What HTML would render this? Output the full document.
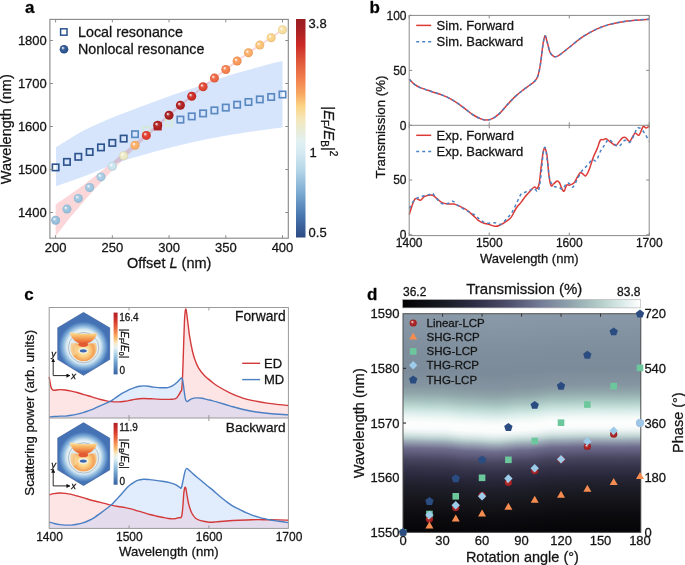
<!DOCTYPE html>
<html><head><meta charset="utf-8"><style>
html,body{margin:0;padding:0;background:#fff;}
body{width:685px;height:565px;overflow:hidden;}
svg{display:block;font-family:"Liberation Sans",sans-serif;}
text{stroke:#141414;stroke-width:0.28px;}
</style></head><body>
<svg width="685" height="565" viewBox="0 0 685 565">
<defs>
<radialGradient id="sg0" cx="0.5" cy="0.5" r="0.5" fx="0.33" fy="0.32"><stop offset="0" stop-color="#ffffff"/><stop offset="0.14" stop-color="#e2edf5"/><stop offset="0.4" stop-color="#9fc5e0"/><stop offset="0.75" stop-color="#97c0dd"/><stop offset="1" stop-color="#88adc7"/></radialGradient>
<radialGradient id="sg1" cx="0.5" cy="0.5" r="0.5" fx="0.33" fy="0.32"><stop offset="0" stop-color="#ffffff"/><stop offset="0.14" stop-color="#e2eef6"/><stop offset="0.4" stop-color="#a1c7e1"/><stop offset="0.75" stop-color="#99c2de"/><stop offset="1" stop-color="#8aafc8"/></radialGradient>
<radialGradient id="sg2" cx="0.5" cy="0.5" r="0.5" fx="0.33" fy="0.32"><stop offset="0" stop-color="#ffffff"/><stop offset="0.14" stop-color="#e3eef6"/><stop offset="0.4" stop-color="#a4c9e2"/><stop offset="0.75" stop-color="#9cc4df"/><stop offset="1" stop-color="#8cb0c9"/></radialGradient>
<radialGradient id="sg3" cx="0.5" cy="0.5" r="0.5" fx="0.33" fy="0.32"><stop offset="0" stop-color="#ffffff"/><stop offset="0.14" stop-color="#e4eff7"/><stop offset="0.4" stop-color="#a8cbe3"/><stop offset="0.75" stop-color="#a0c7e1"/><stop offset="1" stop-color="#90b3ca"/></radialGradient>
<radialGradient id="sg4" cx="0.5" cy="0.5" r="0.5" fx="0.33" fy="0.32"><stop offset="0" stop-color="#ffffff"/><stop offset="0.14" stop-color="#e6f0f7"/><stop offset="0.4" stop-color="#adcfe5"/><stop offset="0.75" stop-color="#a6cbe3"/><stop offset="1" stop-color="#95b7cc"/></radialGradient>
<radialGradient id="sg5" cx="0.5" cy="0.5" r="0.5" fx="0.33" fy="0.32"><stop offset="0" stop-color="#ffffff"/><stop offset="0.14" stop-color="#f0f7fa"/><stop offset="0.4" stop-color="#cde5ee"/><stop offset="0.75" stop-color="#c9e3ec"/><stop offset="1" stop-color="#b5ccd4"/></radialGradient>
<radialGradient id="sg6" cx="0.5" cy="0.5" r="0.5" fx="0.33" fy="0.32"><stop offset="0" stop-color="#ffffff"/><stop offset="0.14" stop-color="#faf9ee"/><stop offset="0.4" stop-color="#eeeac9"/><stop offset="0.75" stop-color="#ece8c4"/><stop offset="1" stop-color="#d4d1b0"/></radialGradient>
<radialGradient id="sg7" cx="0.5" cy="0.5" r="0.5" fx="0.33" fy="0.32"><stop offset="0" stop-color="#ffffff"/><stop offset="0.14" stop-color="#fee8d4"/><stop offset="0.4" stop-color="#fbb472"/><stop offset="0.75" stop-color="#fbae66"/><stop offset="1" stop-color="#e29d5c"/></radialGradient>
<radialGradient id="sg8" cx="0.5" cy="0.5" r="0.5" fx="0.33" fy="0.32"><stop offset="0" stop-color="#ffffff"/><stop offset="0.14" stop-color="#f6c8c4"/><stop offset="0.4" stop-color="#e24b3c"/><stop offset="0.75" stop-color="#e03b2b"/><stop offset="1" stop-color="#ca3527"/></radialGradient>
<radialGradient id="sg9" cx="0.5" cy="0.5" r="0.5" fx="0.33" fy="0.32"><stop offset="0" stop-color="#ffffff"/><stop offset="0.14" stop-color="#e9c0c0"/><stop offset="0.4" stop-color="#b63131"/><stop offset="0.75" stop-color="#b01f1f"/><stop offset="1" stop-color="#9e1c1c"/></radialGradient>
<radialGradient id="sg10" cx="0.5" cy="0.5" r="0.5" fx="0.33" fy="0.32"><stop offset="0" stop-color="#ffffff"/><stop offset="0.14" stop-color="#e6bfbf"/><stop offset="0.4" stop-color="#ac2e2e"/><stop offset="0.75" stop-color="#a51c1c"/><stop offset="1" stop-color="#941919"/></radialGradient>
<radialGradient id="sg11" cx="0.5" cy="0.5" r="0.5" fx="0.33" fy="0.32"><stop offset="0" stop-color="#ffffff"/><stop offset="0.14" stop-color="#e9c1c1"/><stop offset="0.4" stop-color="#b63232"/><stop offset="0.75" stop-color="#b02020"/><stop offset="1" stop-color="#9e1d1d"/></radialGradient>
<radialGradient id="sg12" cx="0.5" cy="0.5" r="0.5" fx="0.33" fy="0.32"><stop offset="0" stop-color="#ffffff"/><stop offset="0.14" stop-color="#f1c4c2"/><stop offset="0.4" stop-color="#d03c36"/><stop offset="0.75" stop-color="#cc2b25"/><stop offset="1" stop-color="#b82721"/></radialGradient>
<radialGradient id="sg13" cx="0.5" cy="0.5" r="0.5" fx="0.33" fy="0.32"><stop offset="0" stop-color="#ffffff"/><stop offset="0.14" stop-color="#f6cbc5"/><stop offset="0.4" stop-color="#e25441"/><stop offset="0.75" stop-color="#df4531"/><stop offset="1" stop-color="#c93e2c"/></radialGradient>
<radialGradient id="sg14" cx="0.5" cy="0.5" r="0.5" fx="0.33" fy="0.32"><stop offset="0" stop-color="#ffffff"/><stop offset="0.14" stop-color="#fad4ca"/><stop offset="0.4" stop-color="#ee704f"/><stop offset="0.75" stop-color="#ed6440"/><stop offset="1" stop-color="#d55a3a"/></radialGradient>
<radialGradient id="sg15" cx="0.5" cy="0.5" r="0.5" fx="0.33" fy="0.32"><stop offset="0" stop-color="#ffffff"/><stop offset="0.14" stop-color="#fcdbcd"/><stop offset="0.4" stop-color="#f5895a"/><stop offset="0.75" stop-color="#f47f4c"/><stop offset="1" stop-color="#dc7244"/></radialGradient>
<radialGradient id="sg16" cx="0.5" cy="0.5" r="0.5" fx="0.33" fy="0.32"><stop offset="0" stop-color="#ffffff"/><stop offset="0.14" stop-color="#fde2d0"/><stop offset="0.4" stop-color="#f99f64"/><stop offset="0.75" stop-color="#f89757"/><stop offset="1" stop-color="#df884e"/></radialGradient>
<radialGradient id="sg17" cx="0.5" cy="0.5" r="0.5" fx="0.33" fy="0.32"><stop offset="0" stop-color="#ffffff"/><stop offset="0.14" stop-color="#fee8d4"/><stop offset="0.4" stop-color="#fab472"/><stop offset="0.75" stop-color="#faad66"/><stop offset="1" stop-color="#e19c5c"/></radialGradient>
<radialGradient id="sg18" cx="0.5" cy="0.5" r="0.5" fx="0.33" fy="0.32"><stop offset="0" stop-color="#ffffff"/><stop offset="0.14" stop-color="#feeed9"/><stop offset="0.4" stop-color="#fbc781"/><stop offset="0.75" stop-color="#fbc276"/><stop offset="1" stop-color="#e2af6a"/></radialGradient>
<radialGradient id="sg19" cx="0.5" cy="0.5" r="0.5" fx="0.33" fy="0.32"><stop offset="0" stop-color="#ffffff"/><stop offset="0.14" stop-color="#fef2dd"/><stop offset="0.4" stop-color="#fbd691"/><stop offset="0.75" stop-color="#fbd287"/><stop offset="1" stop-color="#e2bd7a"/></radialGradient>
<radialGradient id="sg20" cx="0.5" cy="0.5" r="0.5" fx="0.33" fy="0.32"><stop offset="0" stop-color="#ffffff"/><stop offset="0.14" stop-color="#fdf6e4"/><stop offset="0.4" stop-color="#f9e2a7"/><stop offset="0.75" stop-color="#f8df9f"/><stop offset="1" stop-color="#dfc98f"/></radialGradient>
<radialGradient id="sg21" cx="0.5" cy="0.5" r="0.5" fx="0.33" fy="0.32"><stop offset="0" stop-color="#ffffff"/><stop offset="0.14" stop-color="#c4cfe0"/><stop offset="0.4" stop-color="#3e639b"/><stop offset="0.75" stop-color="#2d5592"/><stop offset="1" stop-color="#284c83"/></radialGradient>
<linearGradient id="cba" x1="0" y1="0" x2="0" y2="1"><stop offset="0" stop-color="#9a1e22"/><stop offset="0.05" stop-color="#a82124"/><stop offset="0.12" stop-color="#cc2a26"/><stop offset="0.19" stop-color="#de553a"/><stop offset="0.275" stop-color="#f2804e"/><stop offset="0.34" stop-color="#f8a660"/><stop offset="0.40" stop-color="#fbd486"/><stop offset="0.455" stop-color="#f5e6b8"/><stop offset="0.51" stop-color="#e9ecd6"/><stop offset="0.56" stop-color="#e0f0f2"/><stop offset="0.61" stop-color="#d6eaf2"/><stop offset="0.7" stop-color="#b0d3e6"/><stop offset="0.8" stop-color="#79a8d0"/><stop offset="0.9" stop-color="#4876b0"/><stop offset="1" stop-color="#2c4b84"/></linearGradient>
<clipPath id="cmd0"><path d="M49.2,417 C49.97,416.92 52.05,416.65 53.8,416.5 C55.55,416.35 57.75,416.17 59.7,416.1 C61.65,416.03 63.55,416.23 65.5,416.1 C67.45,415.97 69.45,415.63 71.4,415.3 C73.35,414.97 75.27,414.55 77.2,414.1 C79.13,413.65 81.05,413.18 83,412.6 C84.95,412.02 86.95,411.32 88.9,410.6 C90.85,409.88 92.75,409.13 94.7,408.3 C96.65,407.47 98.65,406.45 100.6,405.6 C102.55,404.75 104.65,403.98 106.4,403.2 C108.15,402.42 109.8,401.63 111.1,400.9 C112.4,400.17 112.52,399.98 114.2,398.8 C115.88,397.62 119.4,394.97 121.2,393.8 C123,392.63 123.58,392.53 125,391.8 C126.42,391.07 128.12,390.1 129.7,389.4 C131.28,388.7 132.92,388.12 134.5,387.6 C136.08,387.08 137.62,386.58 139.2,386.3 C140.78,386.02 142.42,385.9 144,385.9 C145.58,385.9 147.12,386.1 148.7,386.3 C150.28,386.5 151.92,386.88 153.5,387.1 C155.08,387.32 156.62,387.48 158.2,387.6 C159.78,387.72 161.42,387.8 163,387.8 C164.58,387.8 166.13,387.92 167.7,387.6 C169.27,387.28 170.82,386.78 172.4,385.9 C173.98,385.02 175.9,383.45 177.2,382.3 C178.5,381.15 179.48,379.72 180.2,379 C180.92,378.28 181.12,377.92 181.5,378 C181.88,378.08 182.2,378.5 182.5,379.5 C182.8,380.5 183.03,382.17 183.3,384 C183.57,385.83 183.77,388.07 184.1,390.5 C184.43,392.93 184.88,396.8 185.3,398.6 C185.72,400.4 186.15,400.88 186.6,401.3 C187.05,401.72 187.18,401.5 188,401.1 C188.82,400.7 190.03,399.43 191.5,398.9 C192.97,398.37 195.05,398 196.8,397.9 C198.55,397.8 200.23,398.02 202,398.3 C203.77,398.58 205.73,399.22 207.4,399.6 C209.07,399.98 210.33,400.18 212,400.6 C213.67,401.02 214.43,401.23 217.4,402.1 C220.37,402.97 225.67,404.6 229.8,405.8 C233.93,407 238.07,408.32 242.2,409.3 C246.33,410.28 250.47,411.03 254.6,411.7 C258.73,412.37 262.87,412.87 267,413.3 C271.13,413.73 275.87,414.05 279.4,414.3 C282.93,414.55 286.73,414.72 288.2,414.8 L288.2,418 L49.2,418 Z"/></clipPath>
<clipPath id="cmd1"><path d="M49.2,522.2 C49.97,522.4 52.05,523 53.8,523.4 C55.55,523.8 57.75,524.32 59.7,524.6 C61.65,524.88 63.55,525.02 65.5,525.1 C67.45,525.18 69.45,525.23 71.4,525.1 C73.35,524.97 75.27,524.68 77.2,524.3 C79.13,523.92 81.05,523.43 83,522.8 C84.95,522.17 86.95,521.42 88.9,520.5 C90.85,519.58 92.75,518.53 94.7,517.3 C96.65,516.07 98.65,514.52 100.6,513.1 C102.55,511.68 104.65,510.13 106.4,508.8 C108.15,507.47 109.15,506.95 111.1,505.1 C113.05,503.25 115.97,500 118.1,497.7 C120.23,495.4 122.25,493.12 123.9,491.3 C125.55,489.48 126.78,488 128,486.8 C129.22,485.6 129.63,485.17 131.2,484.1 C132.77,483.03 135.33,481.22 137.4,480.4 C139.47,479.58 141.53,479.33 143.6,479.2 C145.67,479.07 147.73,479.4 149.8,479.6 C151.87,479.8 153.93,480.12 156,480.4 C158.07,480.68 160.15,480.98 162.2,481.3 C164.25,481.62 166.25,481.83 168.3,482.3 C170.35,482.77 172.63,483.28 174.5,484.1 C176.37,484.92 178.37,486.58 179.5,487.2 C180.63,487.82 180.68,489.03 181.3,487.8 C181.92,486.57 182.57,482.58 183.2,479.8 C183.83,477.02 184.52,473 185.1,471.1 C185.68,469.2 185.98,468.5 186.7,468.4 C187.42,468.3 188.13,469.42 189.4,470.5 C190.67,471.58 192.65,473.48 194.3,474.9 C195.95,476.32 197.25,477.28 199.3,479 C201.35,480.72 204.3,483.3 206.6,485.2 C208.9,487.1 210.92,488.55 213.1,490.4 C215.28,492.25 217.5,494.45 219.7,496.3 C221.9,498.15 224.1,499.87 226.3,501.5 C228.5,503.13 230.72,504.78 232.9,506.1 C235.08,507.42 237.22,508.3 239.4,509.4 C241.58,510.5 243.8,511.72 246,512.7 C248.2,513.68 250.42,514.53 252.6,515.3 C254.78,516.07 256.92,516.7 259.1,517.3 C261.28,517.9 263.5,518.4 265.7,518.9 C267.9,519.4 270.12,519.92 272.3,520.3 C274.48,520.68 276.15,520.82 278.8,521.2 C281.45,521.58 286.63,522.37 288.2,522.6 L288.2,528.4 L49.2,528.4 Z"/></clipPath>
<linearGradient id="cbc" x1="0" y1="0" x2="0" y2="1"><stop offset="0" stop-color="#b01e24"/><stop offset="0.15" stop-color="#d83a2c"/><stop offset="0.3" stop-color="#f27e47"/><stop offset="0.42" stop-color="#fbc070"/><stop offset="0.5" stop-color="#f4eccc"/><stop offset="0.57" stop-color="#e4f2f4"/><stop offset="0.68" stop-color="#a9cfe6"/><stop offset="0.82" stop-color="#6a9ccb"/><stop offset="1" stop-color="#3660a4"/></linearGradient>
<linearGradient id="bowl" x1="0" y1="0" x2="0" y2="1"><stop offset="0" stop-color="#fce4a6"/><stop offset="0.3" stop-color="#f9be6c"/><stop offset="0.65" stop-color="#f18a48"/><stop offset="1" stop-color="#e2552d"/></linearGradient>
<filter id="soft" x="-20%" y="-20%" width="140%" height="140%"><feGaussianBlur stdDeviation="0.55"/></filter>
<filter id="soft2" x="-50%" y="-50%" width="200%" height="200%"><feGaussianBlur stdDeviation="1.2"/></filter>
<marker id="arr" viewBox="0 0 6 6" refX="5" refY="3" markerWidth="4.5" markerHeight="4.5" orient="auto"><path d="M0,0 L6,3 L0,6 Z" fill="#111"/></marker>
<clipPath id="hex0"><path d="M83.5,312.3 L109.8,327.8 L109.8,359.6 L83.5,375.4 L57.6,359.6 L57.6,327.8 Z"/></clipPath>
<radialGradient id="glow0" cx="83.6" cy="346.6" r="25" gradientUnits="userSpaceOnUse"><stop offset="0" stop-color="#d6e8f2"/><stop offset="0.5" stop-color="#dcecf4"/><stop offset="0.62" stop-color="#eaf4f6"/><stop offset="0.7" stop-color="#cfe4f0"/><stop offset="0.8" stop-color="#94bde0"/><stop offset="0.92" stop-color="#5f8fc8"/><stop offset="1" stop-color="#4472b4"/></radialGradient>
<radialGradient id="ring0" cx="83.6" cy="350.4" r="13" gradientUnits="userSpaceOnUse"><stop offset="0" stop-color="#f6f0dc"/><stop offset="0.3" stop-color="#fae2a0"/><stop offset="0.55" stop-color="#f9c67a"/><stop offset="0.8" stop-color="#f3a157"/><stop offset="1" stop-color="#f7cc90"/></radialGradient>
<clipPath id="hex110"><path d="M83.5,422.6 L109.8,438.1 L109.8,469.9 L83.5,485.7 L57.6,469.9 L57.6,438.1 Z"/></clipPath>
<radialGradient id="glow110" cx="83.6" cy="456.9" r="25" gradientUnits="userSpaceOnUse"><stop offset="0" stop-color="#d6e8f2"/><stop offset="0.5" stop-color="#dcecf4"/><stop offset="0.62" stop-color="#eaf4f6"/><stop offset="0.7" stop-color="#cfe4f0"/><stop offset="0.8" stop-color="#94bde0"/><stop offset="0.92" stop-color="#5f8fc8"/><stop offset="1" stop-color="#4472b4"/></radialGradient>
<radialGradient id="ring110" cx="83.6" cy="460.7" r="13" gradientUnits="userSpaceOnUse"><stop offset="0" stop-color="#f6f0dc"/><stop offset="0.3" stop-color="#fae2a0"/><stop offset="0.55" stop-color="#f9c67a"/><stop offset="0.8" stop-color="#f3a157"/><stop offset="1" stop-color="#f7cc90"/></radialGradient>
<linearGradient id="hm" x1="0" y1="300.0" x2="0" y2="545.0" gradientUnits="userSpaceOnUse"><stop offset="0.0559" stop-color="#8999a7"/><stop offset="0.1224" stop-color="#8494a2"/><stop offset="0.2041" stop-color="#7e8e9c"/><stop offset="0.2857" stop-color="#7b8b99"/><stop offset="0.3469" stop-color="#8494a0"/><stop offset="0.3796" stop-color="#90a6aa"/><stop offset="0.4082" stop-color="#a4c0be"/><stop offset="0.4327" stop-color="#bcd8d2"/><stop offset="0.4571" stop-color="#d8ece8"/><stop offset="0.4816" stop-color="#f2f9f7"/><stop offset="0.5020" stop-color="#fcfefd"/><stop offset="0.5224" stop-color="#fafcfc"/><stop offset="0.5388" stop-color="#e8f0f0"/><stop offset="0.5510" stop-color="#d2e2e0"/><stop offset="0.5633" stop-color="#b8ccce"/><stop offset="0.5755" stop-color="#9eacb8"/><stop offset="0.5878" stop-color="#8a90a6"/><stop offset="0.6041" stop-color="#6e6c8c"/><stop offset="0.6286" stop-color="#5a5676"/><stop offset="0.6490" stop-color="#48465f"/><stop offset="0.6857" stop-color="#35334a"/><stop offset="0.7224" stop-color="#28273a"/><stop offset="0.7551" stop-color="#20202c"/><stop offset="0.8163" stop-color="#15151b"/><stop offset="0.8776" stop-color="#0c0c10"/><stop offset="0.9482" stop-color="#050507"/></linearGradient>
<linearGradient id="hm0" href="#hm" x1="0" y1="300" x2="0" y2="545" gradientUnits="userSpaceOnUse"/>
<linearGradient id="hm1" href="#hm" x1="0" y1="300.03" x2="0" y2="545.03" gradientUnits="userSpaceOnUse"/>
<linearGradient id="hm2" href="#hm" x1="0" y1="300.09" x2="0" y2="545.09" gradientUnits="userSpaceOnUse"/>
<linearGradient id="hm3" href="#hm" x1="0" y1="300.16" x2="0" y2="545.16" gradientUnits="userSpaceOnUse"/>
<linearGradient id="hm4" href="#hm" x1="0" y1="300.24" x2="0" y2="545.24" gradientUnits="userSpaceOnUse"/>
<linearGradient id="hm5" href="#hm" x1="0" y1="300.34" x2="0" y2="545.34" gradientUnits="userSpaceOnUse"/>
<linearGradient id="hm6" href="#hm" x1="0" y1="300.43" x2="0" y2="545.43" gradientUnits="userSpaceOnUse"/>
<linearGradient id="hm7" href="#hm" x1="0" y1="300.53" x2="0" y2="545.53" gradientUnits="userSpaceOnUse"/>
<linearGradient id="hm8" href="#hm" x1="0" y1="300.62" x2="0" y2="545.62" gradientUnits="userSpaceOnUse"/>
<linearGradient id="hm9" href="#hm" x1="0" y1="300.69" x2="0" y2="545.69" gradientUnits="userSpaceOnUse"/>
<linearGradient id="hm10" href="#hm" x1="0" y1="300.75" x2="0" y2="545.75" gradientUnits="userSpaceOnUse"/>
<linearGradient id="hm11" href="#hm" x1="0" y1="300.79" x2="0" y2="545.79" gradientUnits="userSpaceOnUse"/>
<linearGradient id="hm12" href="#hm" x1="0" y1="300.8" x2="0" y2="545.8" gradientUnits="userSpaceOnUse"/>
<linearGradient id="hm13" href="#hm" x1="0" y1="300.88" x2="0" y2="545.88" gradientUnits="userSpaceOnUse"/>
<linearGradient id="hm14" href="#hm" x1="0" y1="301.07" x2="0" y2="546.07" gradientUnits="userSpaceOnUse"/>
<linearGradient id="hm15" href="#hm" x1="0" y1="301.32" x2="0" y2="546.32" gradientUnits="userSpaceOnUse"/>
<linearGradient id="hm16" href="#hm" x1="0" y1="301.63" x2="0" y2="546.63" gradientUnits="userSpaceOnUse"/>
<linearGradient id="hm17" href="#hm" x1="0" y1="301.95" x2="0" y2="546.95" gradientUnits="userSpaceOnUse"/>
<linearGradient id="hm18" href="#hm" x1="0" y1="302.28" x2="0" y2="547.28" gradientUnits="userSpaceOnUse"/>
<linearGradient id="hm19" href="#hm" x1="0" y1="302.57" x2="0" y2="547.57" gradientUnits="userSpaceOnUse"/>
<linearGradient id="hm20" href="#hm" x1="0" y1="302.81" x2="0" y2="547.81" gradientUnits="userSpaceOnUse"/>
<linearGradient id="hm21" href="#hm" x1="0" y1="302.96" x2="0" y2="547.96" gradientUnits="userSpaceOnUse"/>
<linearGradient id="hm22" href="#hm" x1="0" y1="303" x2="0" y2="548" gradientUnits="userSpaceOnUse"/>
<linearGradient id="hm23" href="#hm" x1="0" y1="303.06" x2="0" y2="548.06" gradientUnits="userSpaceOnUse"/>
<linearGradient id="hm24" href="#hm" x1="0" y1="303.2" x2="0" y2="548.2" gradientUnits="userSpaceOnUse"/>
<linearGradient id="hm25" href="#hm" x1="0" y1="303.39" x2="0" y2="548.39" gradientUnits="userSpaceOnUse"/>
<linearGradient id="hm26" href="#hm" x1="0" y1="303.6" x2="0" y2="548.6" gradientUnits="userSpaceOnUse"/>
<linearGradient id="hm27" href="#hm" x1="0" y1="303.81" x2="0" y2="548.81" gradientUnits="userSpaceOnUse"/>
<linearGradient id="hm28" href="#hm" x1="0" y1="304" x2="0" y2="549" gradientUnits="userSpaceOnUse"/>
<linearGradient id="hm29" href="#hm" x1="0" y1="304.14" x2="0" y2="549.14" gradientUnits="userSpaceOnUse"/>
<linearGradient id="hm30" href="#hm" x1="0" y1="304.2" x2="0" y2="549.2" gradientUnits="userSpaceOnUse"/>
<linearGradient id="hm31" href="#hm" x1="0" y1="304.16" x2="0" y2="549.16" gradientUnits="userSpaceOnUse"/>
<linearGradient id="hm32" href="#hm" x1="0" y1="304.02" x2="0" y2="549.02" gradientUnits="userSpaceOnUse"/>
<linearGradient id="hm33" href="#hm" x1="0" y1="303.81" x2="0" y2="548.81" gradientUnits="userSpaceOnUse"/>
<linearGradient id="hm34" href="#hm" x1="0" y1="303.54" x2="0" y2="548.54" gradientUnits="userSpaceOnUse"/>
<linearGradient id="hm35" href="#hm" x1="0" y1="303.25" x2="0" y2="548.25" gradientUnits="userSpaceOnUse"/>
<linearGradient id="hm36" href="#hm" x1="0" y1="302.95" x2="0" y2="547.95" gradientUnits="userSpaceOnUse"/>
<linearGradient id="hm37" href="#hm" x1="0" y1="302.67" x2="0" y2="547.67" gradientUnits="userSpaceOnUse"/>
<linearGradient id="hm38" href="#hm" x1="0" y1="302.44" x2="0" y2="547.44" gradientUnits="userSpaceOnUse"/>
<linearGradient id="hm39" href="#hm" x1="0" y1="302.28" x2="0" y2="547.28" gradientUnits="userSpaceOnUse"/>
<linearGradient id="hm40" href="#hm" x1="0" y1="302.2" x2="0" y2="547.2" gradientUnits="userSpaceOnUse"/>
<linearGradient id="hm41" href="#hm" x1="0" y1="302.14" x2="0" y2="547.14" gradientUnits="userSpaceOnUse"/>
<linearGradient id="hm42" href="#hm" x1="0" y1="301.95" x2="0" y2="546.95" gradientUnits="userSpaceOnUse"/>
<linearGradient id="hm43" href="#hm" x1="0" y1="301.65" x2="0" y2="546.65" gradientUnits="userSpaceOnUse"/>
<linearGradient id="hm44" href="#hm" x1="0" y1="301.28" x2="0" y2="546.28" gradientUnits="userSpaceOnUse"/>
<linearGradient id="hm45" href="#hm" x1="0" y1="300.87" x2="0" y2="545.87" gradientUnits="userSpaceOnUse"/>
<linearGradient id="hm46" href="#hm" x1="0" y1="300.45" x2="0" y2="545.45" gradientUnits="userSpaceOnUse"/>
<linearGradient id="hm47" href="#hm" x1="0" y1="300.06" x2="0" y2="545.06" gradientUnits="userSpaceOnUse"/>
<linearGradient id="hm48" href="#hm" x1="0" y1="299.74" x2="0" y2="544.74" gradientUnits="userSpaceOnUse"/>
<linearGradient id="hm49" href="#hm" x1="0" y1="299.51" x2="0" y2="544.51" gradientUnits="userSpaceOnUse"/>
<linearGradient id="hm50" href="#hm" x1="0" y1="299.4" x2="0" y2="544.4" gradientUnits="userSpaceOnUse"/>
<linearGradient id="hm51" href="#hm" x1="0" y1="299.39" x2="0" y2="544.39" gradientUnits="userSpaceOnUse"/>
<linearGradient id="hm52" href="#hm" x1="0" y1="299.36" x2="0" y2="544.36" gradientUnits="userSpaceOnUse"/>
<linearGradient id="hm53" href="#hm" x1="0" y1="299.31" x2="0" y2="544.31" gradientUnits="userSpaceOnUse"/>
<linearGradient id="hm54" href="#hm" x1="0" y1="299.25" x2="0" y2="544.25" gradientUnits="userSpaceOnUse"/>
<linearGradient id="hm55" href="#hm" x1="0" y1="299.18" x2="0" y2="544.18" gradientUnits="userSpaceOnUse"/>
<linearGradient id="hm56" href="#hm" x1="0" y1="299.1" x2="0" y2="544.1" gradientUnits="userSpaceOnUse"/>
<linearGradient id="hm57" href="#hm" x1="0" y1="299.02" x2="0" y2="544.02" gradientUnits="userSpaceOnUse"/>
<linearGradient id="hm58" href="#hm" x1="0" y1="298.95" x2="0" y2="543.95" gradientUnits="userSpaceOnUse"/>
<linearGradient id="hm59" href="#hm" x1="0" y1="298.89" x2="0" y2="543.89" gradientUnits="userSpaceOnUse"/>
<linearGradient id="hm60" href="#hm" x1="0" y1="298.84" x2="0" y2="543.84" gradientUnits="userSpaceOnUse"/>
<linearGradient id="hm61" href="#hm" x1="0" y1="298.81" x2="0" y2="543.81" gradientUnits="userSpaceOnUse"/>
<linearGradient id="hm62" href="#hm" x1="0" y1="298.8" x2="0" y2="543.8" gradientUnits="userSpaceOnUse"/>
<linearGradient id="hm63" href="#hm" x1="0" y1="298.81" x2="0" y2="543.81" gradientUnits="userSpaceOnUse"/>
<linearGradient id="hm64" href="#hm" x1="0" y1="298.82" x2="0" y2="543.82" gradientUnits="userSpaceOnUse"/>
<linearGradient id="hm65" href="#hm" x1="0" y1="298.85" x2="0" y2="543.85" gradientUnits="userSpaceOnUse"/>
<linearGradient id="hm66" href="#hm" x1="0" y1="298.88" x2="0" y2="543.88" gradientUnits="userSpaceOnUse"/>
<linearGradient id="hm67" href="#hm" x1="0" y1="298.9" x2="0" y2="543.9" gradientUnits="userSpaceOnUse"/>
<linearGradient id="hm68" href="#hm" x1="0" y1="298.93" x2="0" y2="543.93" gradientUnits="userSpaceOnUse"/>
<linearGradient id="hm69" href="#hm" x1="0" y1="298.96" x2="0" y2="543.96" gradientUnits="userSpaceOnUse"/>
<linearGradient id="hm70" href="#hm" x1="0" y1="298.98" x2="0" y2="543.98" gradientUnits="userSpaceOnUse"/>
<linearGradient id="hm71" href="#hm" x1="0" y1="299" x2="0" y2="544" gradientUnits="userSpaceOnUse"/>
<linearGradient id="hm72" href="#hm" x1="0" y1="299" x2="0" y2="544" gradientUnits="userSpaceOnUse"/>
<linearGradient id="hm73" href="#hm" x1="0" y1="298.99" x2="0" y2="543.99" gradientUnits="userSpaceOnUse"/>
<linearGradient id="hm74" href="#hm" x1="0" y1="298.95" x2="0" y2="543.95" gradientUnits="userSpaceOnUse"/>
<linearGradient id="hm75" href="#hm" x1="0" y1="298.91" x2="0" y2="543.91" gradientUnits="userSpaceOnUse"/>
<linearGradient id="hm76" href="#hm" x1="0" y1="298.87" x2="0" y2="543.87" gradientUnits="userSpaceOnUse"/>
<linearGradient id="hm77" href="#hm" x1="0" y1="298.83" x2="0" y2="543.83" gradientUnits="userSpaceOnUse"/>
<linearGradient id="hm78" href="#hm" x1="0" y1="298.81" x2="0" y2="543.81" gradientUnits="userSpaceOnUse"/>
<linearGradient id="hm79" href="#hm" x1="0" y1="298.8" x2="0" y2="543.8" gradientUnits="userSpaceOnUse"/>
<linearGradient id="cbd" x1="0" y1="0" x2="1" y2="0"><stop offset="0" stop-color="#020204"/><stop offset="0.15" stop-color="#16161f"/><stop offset="0.3" stop-color="#2e2d44"/><stop offset="0.45" stop-color="#4f4f6e"/><stop offset="0.58" stop-color="#737c96"/><stop offset="0.7" stop-color="#8fa2ac"/><stop offset="0.82" stop-color="#b0cac6"/><stop offset="0.92" stop-color="#d8eae6"/><stop offset="1" stop-color="#ffffff"/></linearGradient>
<radialGradient id="sg22" cx="0.5" cy="0.5" r="0.5" fx="0.33" fy="0.32"><stop offset="0" stop-color="#ffffff"/><stop offset="0.14" stop-color="#e7c1c1"/><stop offset="0.4" stop-color="#af3434"/><stop offset="0.75" stop-color="#a82222"/><stop offset="1" stop-color="#971f1f"/></radialGradient>
</defs>
<rect x="0" y="0" width="685" height="565" fill="#ffffff"/>
<g id="panel-a">
<text x="25" y="13.4" font-size="17" text-anchor="start" font-weight="bold" font-style="normal" fill="#000" >a</text>
<path d="M56,147.2 C57.95,146 62.8,142.93 67.7,140 C72.6,137.07 79.5,132.7 85.4,129.6 C91.3,126.5 97.2,123.95 103.1,121.4 C109,118.85 114.9,116.63 120.8,114.3 C126.7,111.97 132.6,109.63 138.5,107.4 C144.4,105.17 150.28,103.03 156.2,100.9 C162.12,98.77 168.03,96.68 174,94.6 C179.97,92.52 186,90.5 192,88.4 C198,86.3 204,84.1 210,82 C216,79.9 222,77.7 228,75.8 C234,73.9 240,72.33 246,70.6 C252,68.87 257.92,67 264,65.4 C270.08,63.8 279.42,61.73 282.5,61 L282.5,127.4 C278.78,127.88 269.75,128.9 260.2,130.3 C250.65,131.7 236.87,133.72 225.2,135.8 C213.53,137.88 201.88,140.18 190.2,142.8 C178.52,145.42 166.8,148.3 155.1,151.5 C143.4,154.7 131.68,157.92 120,162 C108.32,166.08 95.67,171.97 85,176 C74.33,180.03 60.83,184.5 56,186.2 Z" fill="#d6e5fb"/>
<path d="M55.6,204.5 L56.48,203.89 L57.64,203.07 L59.02,202.1 L60.56,201.02 L62.19,199.88 L63.84,198.73 L65.45,197.63 L66.95,196.61 L68.36,195.66 L69.78,194.73 L71.2,193.75 L72.62,192.76 L74.04,191.77 L75.45,190.79 L76.87,189.79 L78.29,188.79 L79.71,187.77 L81.13,186.75 L82.54,185.72 L83.96,184.69 L85.38,183.64 L86.8,182.5 L88.22,181.36 L89.64,180.24 L91.05,179.13 L92.47,178.03 L93.89,176.93 L95.31,175.84 L96.73,174.75 L98.14,173.65 L99.56,172.56 L100.98,171.43 L102.4,170.28 L103.82,169.13 L105.23,167.98 L106.65,166.82 L108.07,165.67 L109.49,164.52 L110.91,163.38 L112.33,162.22 L113.74,160.99 L115.16,159.77 L116.58,158.56 L118,157.35 L119.42,156.15 L120.83,154.94 L122.25,153.73 L123.67,152.51 L125.09,151.28 L126.51,150.05 L127.92,148.81 L129.34,147.57 L130.76,146.34 L132.18,145.11 L133.6,143.9 L135.02,142.7 L136.43,141.48 L137.85,140.28 L139.27,139.09 L140.69,137.91 L142.11,136.73 L143.52,135.55 L144.94,134.36 L146.36,133.16 L147.78,131.96 L149.2,130.74 L150.61,129.52 L152.03,128.3 L153.45,127.08 L154.87,125.86 L156.29,124.64 L157.71,123.43 L159.12,122.22 L160.54,121 L161.96,119.77 L163.38,118.54 L164.8,117.31 L166.21,116.08 L167.63,114.85 L169.05,113.61 L170.47,112.36 L171.89,111.1 L173.3,109.83 L174.72,108.57 L176.14,107.31 L177.56,106.06 L178.98,104.84 L180.4,103.65 L181.81,102.51 L183.23,101.4 L184.65,100.31 L186.07,99.24 L187.49,98.18 L188.9,97.11 L190.32,96.02 L191.74,94.9 L193.16,93.74 L194.58,92.56 L195.99,91.36 L197.41,90.15 L198.83,88.94 L200.25,87.75 L201.67,86.56 L203.09,85.41 L204.5,84.29 L205.92,83.2 L207.34,82.12 L208.76,81.06 L210.18,80.01 L211.59,78.96 L213.01,77.91 L214.43,76.84 L215.85,75.77 L217.27,74.7 L218.68,73.62 L220.1,72.55 L221.52,71.48 L222.94,70.41 L224.36,69.34 L225.78,68.28 L227.19,67.22 L228.61,66.17 L230.03,65.12 L231.45,64.08 L232.87,63.03 L234.28,61.99 L235.7,60.95 L237.12,59.91 L238.54,58.87 L239.96,57.82 L241.37,56.78 L242.79,55.74 L244.21,54.7 L245.63,53.67 L247.05,52.65 L248.47,51.65 L249.88,50.66 L251.3,49.68 L252.72,48.71 L254.14,47.76 L255.56,46.81 L256.97,45.86 L258.39,44.92 L259.81,43.98 L261.23,43.05 L262.65,42.13 L264.06,41.22 L265.48,40.31 L266.9,39.4 L268.32,38.48 L269.74,37.56 L271.16,36.61 L272.65,35.6 L274.26,34.5 L275.91,33.36 L277.54,32.22 L279.08,31.14 L280.46,30.17 L281.62,29.36 L282.5,28.75 L282.5,30.85 L281.62,31.47 L280.46,32.29 L279.08,33.27 L277.54,34.35 L275.91,35.5 L274.26,36.65 L272.65,37.76 L271.16,38.79 L269.74,39.74 L268.32,40.67 L266.9,41.6 L265.48,42.52 L264.06,43.43 L262.65,44.35 L261.23,45.28 L259.81,46.22 L258.39,47.17 L256.97,48.12 L255.56,49.07 L254.14,50.03 L252.72,51 L251.3,51.97 L249.88,52.96 L248.47,53.95 L247.05,54.97 L245.63,55.99 L244.21,57.03 L242.79,58.08 L241.37,59.13 L239.96,60.18 L238.54,61.24 L237.12,62.29 L235.7,63.34 L234.28,64.39 L232.87,65.43 L231.45,66.49 L230.03,67.54 L228.61,68.6 L227.19,69.66 L225.78,70.72 L224.36,71.79 L222.94,72.87 L221.52,73.95 L220.1,75.03 L218.68,76.11 L217.27,77.19 L215.85,78.28 L214.43,79.36 L213.01,80.43 L211.59,81.49 L210.18,82.55 L208.76,83.61 L207.34,84.68 L205.92,85.76 L204.5,86.86 L203.09,87.99 L201.67,89.15 L200.25,90.35 L198.83,91.57 L197.41,92.81 L195.99,94.06 L194.58,95.29 L193.16,96.51 L191.74,97.7 L190.32,98.86 L188.9,99.98 L187.49,101.09 L186.07,102.19 L184.65,103.3 L183.23,104.42 L181.81,105.56 L180.4,106.75 L178.98,107.97 L177.56,109.22 L176.14,110.5 L174.72,111.8 L173.3,113.1 L171.89,114.41 L170.47,115.7 L169.05,116.99 L167.63,118.26 L166.21,119.53 L164.8,120.79 L163.38,122.06 L161.96,123.32 L160.54,124.59 L159.12,125.87 L157.71,127.17 L156.29,128.48 L154.87,129.79 L153.45,131.1 L152.03,132.41 L150.61,133.72 L149.2,135.03 L147.78,136.34 L146.36,137.64 L144.94,138.92 L143.52,140.2 L142.11,141.47 L140.69,142.74 L139.27,144.02 L137.85,145.3 L136.43,146.59 L135.02,147.9 L133.6,149.27 L132.18,150.66 L130.76,152.06 L129.34,153.46 L127.92,154.87 L126.51,156.28 L125.09,157.69 L123.67,159.09 L122.25,160.48 L120.83,161.86 L119.42,163.24 L118,164.62 L116.58,166 L115.16,167.39 L113.74,168.78 L112.33,170.18 L110.91,171.67 L109.49,173.19 L108.07,174.72 L106.65,176.25 L105.23,177.78 L103.82,179.32 L102.4,180.85 L100.98,182.37 L99.56,183.9 L98.14,185.45 L96.73,186.99 L95.31,188.54 L93.89,190.09 L92.47,191.64 L91.05,193.19 L89.64,194.76 L88.22,196.33 L86.8,197.92 L85.38,199.51 L83.96,201.19 L82.54,202.9 L81.13,204.61 L79.71,206.32 L78.29,208.01 L76.87,209.69 L75.45,211.37 L74.04,213.04 L72.62,214.7 L71.2,216.37 L69.78,218.06 L68.36,219.82 L66.95,221.59 L65.45,223.48 L63.84,225.52 L62.19,227.63 L60.56,229.72 L59.02,231.7 L57.64,233.48 L56.48,234.98 L55.6,236.1 Z" fill="#fcd7da" style="mix-blend-mode:multiply"/>
<rect x="52.4" y="164.2" width="6.4" height="6.4" fill="none" stroke="#2e548e" stroke-width="1.65" />
<rect x="63.75" y="158.7" width="6.4" height="6.4" fill="none" stroke="#2e548e" stroke-width="1.65" />
<rect x="75.09" y="153.6" width="6.4" height="6.4" fill="none" stroke="#2e548e" stroke-width="1.65" />
<rect x="86.44" y="148.8" width="6.4" height="6.4" fill="none" stroke="#2e548e" stroke-width="1.65" />
<rect x="97.78" y="144.2" width="6.4" height="6.4" fill="none" stroke="#2e548e" stroke-width="1.65" />
<rect x="109.12" y="139.7" width="6.4" height="6.4" fill="none" stroke="#2e548e" stroke-width="1.65" />
<rect x="120.47" y="135.4" width="6.4" height="6.4" fill="none" stroke="#2e548e" stroke-width="1.65" />
<rect x="131.82" y="131" width="6.4" height="6.4" fill="none" stroke="#5a88c0" stroke-width="1.65" />
<rect x="143.16" y="127" width="6.4" height="6.4" fill="none" stroke="#d3e8d6" stroke-width="1.65" />
<rect x="154.51" y="123.2" width="6.4" height="6.4" fill="none" stroke="#b01f1f" stroke-width="1.65" />
<rect x="165.85" y="119.7" width="6.4" height="6.4" fill="none" stroke="#d8ecd8" stroke-width="1.65" />
<rect x="177.2" y="116.4" width="6.4" height="6.4" fill="none" stroke="#5a88c0" stroke-width="1.65" />
<rect x="188.54" y="113.2" width="6.4" height="6.4" fill="none" stroke="#5a88c0" stroke-width="1.65" />
<rect x="199.89" y="110.2" width="6.4" height="6.4" fill="none" stroke="#5a88c0" stroke-width="1.65" />
<rect x="211.23" y="107.2" width="6.4" height="6.4" fill="none" stroke="#5a88c0" stroke-width="1.65" />
<rect x="222.58" y="104.4" width="6.4" height="6.4" fill="none" stroke="#5a88c0" stroke-width="1.65" />
<rect x="233.92" y="101.5" width="6.4" height="6.4" fill="none" stroke="#5a88c0" stroke-width="1.65" />
<rect x="245.27" y="98.8" width="6.4" height="6.4" fill="none" stroke="#5a88c0" stroke-width="1.65" />
<rect x="256.61" y="96.2" width="6.4" height="6.4" fill="none" stroke="#5a88c0" stroke-width="1.65" />
<rect x="267.96" y="93.8" width="6.4" height="6.4" fill="none" stroke="#5a88c0" stroke-width="1.65" />
<rect x="279.3" y="91.3" width="6.4" height="6.4" fill="none" stroke="#5a88c0" stroke-width="1.65" />
<circle cx="55.6" cy="220.3" r="4.5" fill="url(#sg0)"/>
<circle cx="66.95" cy="209.1" r="4.5" fill="url(#sg1)"/>
<circle cx="78.29" cy="198.4" r="4.5" fill="url(#sg2)"/>
<circle cx="89.64" cy="187.5" r="4.5" fill="url(#sg3)"/>
<circle cx="100.98" cy="176.9" r="4.5" fill="url(#sg4)"/>
<circle cx="112.33" cy="166.2" r="4.5" fill="url(#sg5)"/>
<circle cx="123.67" cy="155.8" r="4.5" fill="url(#sg6)"/>
<circle cx="135.02" cy="145.3" r="4.5" fill="url(#sg7)"/>
<circle cx="146.36" cy="135.4" r="4.5" fill="url(#sg8)"/>
<circle cx="157.71" cy="125.3" r="4.5" fill="url(#sg9)"/>
<circle cx="169.05" cy="115.3" r="4.5" fill="url(#sg10)"/>
<circle cx="180.4" cy="105.2" r="4.5" fill="url(#sg11)"/>
<circle cx="191.74" cy="96.3" r="4.5" fill="url(#sg12)"/>
<circle cx="203.09" cy="86.7" r="4.5" fill="url(#sg13)"/>
<circle cx="214.43" cy="78.1" r="4.5" fill="url(#sg14)"/>
<circle cx="225.78" cy="69.5" r="4.5" fill="url(#sg15)"/>
<circle cx="237.12" cy="61.1" r="4.5" fill="url(#sg16)"/>
<circle cx="248.47" cy="52.8" r="4.5" fill="url(#sg17)"/>
<circle cx="259.81" cy="45.1" r="4.5" fill="url(#sg18)"/>
<circle cx="271.16" cy="37.7" r="4.5" fill="url(#sg19)"/>
<circle cx="282.5" cy="29.8" r="4.5" fill="url(#sg20)"/>
<rect x="49.9" y="19.4" width="238.4" height="218.8" fill="none" stroke="#8a8a8a" stroke-width="1.15" />
<line x1="49.9" y1="212.5" x2="52.9" y2="212.5" stroke="#8a8a8a" stroke-width="1" />
<line x1="288.3" y1="212.5" x2="285.3" y2="212.5" stroke="#8a8a8a" stroke-width="1" />
<text x="46.8" y="217.1" font-size="13" text-anchor="end" font-weight="normal" font-style="normal" fill="#141414" >1400</text>
<line x1="49.9" y1="169.5" x2="52.9" y2="169.5" stroke="#8a8a8a" stroke-width="1" />
<line x1="288.3" y1="169.5" x2="285.3" y2="169.5" stroke="#8a8a8a" stroke-width="1" />
<text x="46.8" y="174.1" font-size="13" text-anchor="end" font-weight="normal" font-style="normal" fill="#141414" >1500</text>
<line x1="49.9" y1="126.5" x2="52.9" y2="126.5" stroke="#8a8a8a" stroke-width="1" />
<line x1="288.3" y1="126.5" x2="285.3" y2="126.5" stroke="#8a8a8a" stroke-width="1" />
<text x="46.8" y="131.1" font-size="13" text-anchor="end" font-weight="normal" font-style="normal" fill="#141414" >1600</text>
<line x1="49.9" y1="83.5" x2="52.9" y2="83.5" stroke="#8a8a8a" stroke-width="1" />
<line x1="288.3" y1="83.5" x2="285.3" y2="83.5" stroke="#8a8a8a" stroke-width="1" />
<text x="46.8" y="88.1" font-size="13" text-anchor="end" font-weight="normal" font-style="normal" fill="#141414" >1700</text>
<line x1="49.9" y1="40.5" x2="52.9" y2="40.5" stroke="#8a8a8a" stroke-width="1" />
<line x1="288.3" y1="40.5" x2="285.3" y2="40.5" stroke="#8a8a8a" stroke-width="1" />
<text x="46.8" y="45.1" font-size="13" text-anchor="end" font-weight="normal" font-style="normal" fill="#141414" >1800</text>
<line x1="55.6" y1="238.2" x2="55.6" y2="235.2" stroke="#8a8a8a" stroke-width="1" />
<line x1="55.6" y1="19.4" x2="55.6" y2="22.4" stroke="#8a8a8a" stroke-width="1" />
<text x="55.6" y="251.9" font-size="13" text-anchor="middle" font-weight="normal" font-style="normal" fill="#141414" >200</text>
<line x1="112.33" y1="238.2" x2="112.33" y2="235.2" stroke="#8a8a8a" stroke-width="1" />
<line x1="112.33" y1="19.4" x2="112.33" y2="22.4" stroke="#8a8a8a" stroke-width="1" />
<text x="112.33" y="251.9" font-size="13" text-anchor="middle" font-weight="normal" font-style="normal" fill="#141414" >250</text>
<line x1="169.05" y1="238.2" x2="169.05" y2="235.2" stroke="#8a8a8a" stroke-width="1" />
<line x1="169.05" y1="19.4" x2="169.05" y2="22.4" stroke="#8a8a8a" stroke-width="1" />
<text x="169.05" y="251.9" font-size="13" text-anchor="middle" font-weight="normal" font-style="normal" fill="#141414" >300</text>
<line x1="225.78" y1="238.2" x2="225.78" y2="235.2" stroke="#8a8a8a" stroke-width="1" />
<line x1="225.78" y1="19.4" x2="225.78" y2="22.4" stroke="#8a8a8a" stroke-width="1" />
<text x="225.78" y="251.9" font-size="13" text-anchor="middle" font-weight="normal" font-style="normal" fill="#141414" >350</text>
<line x1="282.5" y1="238.2" x2="282.5" y2="235.2" stroke="#8a8a8a" stroke-width="1" />
<line x1="282.5" y1="19.4" x2="282.5" y2="22.4" stroke="#8a8a8a" stroke-width="1" />
<text x="282.5" y="251.9" font-size="13" text-anchor="middle" font-weight="normal" font-style="normal" fill="#141414" >400</text>
<text x="169.2" y="268" font-size="14.5" text-anchor="middle" fill="#141414">Offset <tspan font-style="italic">L</tspan> (nm)</text>
<text transform="translate(10.7,129.2) rotate(-90)" x="0" y="0" font-size="14.5" text-anchor="middle" fill="#141414" >Wavelength (nm)</text>
<rect x="60.6" y="28.8" width="6.4" height="6.4" fill="none" stroke="#2e548e" stroke-width="1.5" />
<circle cx="64" cy="49.2" r="4.3" fill="url(#sg21)"/>
<text x="78" y="36.7" font-size="14.3" text-anchor="start" font-weight="normal" font-style="normal" fill="#141414" >Local resonance</text>
<text x="78" y="54.2" font-size="14.3" text-anchor="start" font-weight="normal" font-style="normal" fill="#141414" >Nonlocal resonance</text>
<rect x="296" y="19" width="9.5" height="218.5" fill="url(#cba)" stroke="none" stroke-width="1" />
<text x="308.6" y="28.1" font-size="13" text-anchor="start" font-weight="normal" font-style="normal" fill="#141414" >3.8</text>
<text x="309.6" y="156.6" font-size="13" text-anchor="start" font-weight="normal" font-style="normal" fill="#141414" >1</text>
<text x="308.6" y="237.2" font-size="13" text-anchor="start" font-weight="normal" font-style="normal" fill="#141414" >0.5</text>
<text transform="translate(324.3,131.3) rotate(90)" font-size="14.9" text-anchor="middle" fill="#141414">|<tspan font-style="italic">E</tspan><tspan font-size="10" dy="3">F</tspan><tspan dy="-3">/</tspan><tspan font-style="italic">E</tspan><tspan font-size="10" dy="3">B</tspan><tspan dy="-3">|</tspan><tspan font-size="10" dy="-6">2</tspan></text>
</g>
<g id="panel-b">
<text x="369.6" y="13.4" font-size="17" text-anchor="start" font-weight="bold" font-style="normal" fill="#000" >b</text>
<path d="M409.2,79.3 C410.08,80.15 412.67,83.02 414.5,84.4 C416.33,85.78 417.98,86.62 420.2,87.6 C422.42,88.58 425.27,89.43 427.8,90.3 C430.33,91.17 432.87,91.95 435.4,92.8 C437.93,93.65 440.48,94.4 443,95.4 C445.52,96.4 447.98,97.43 450.5,98.8 C453.02,100.17 455.57,101.85 458.1,103.6 C460.63,105.35 463.17,107.4 465.7,109.3 C468.23,111.2 470.77,113.4 473.3,115 C475.83,116.6 478.68,118.05 480.9,118.9 C483.12,119.75 484.7,120.13 486.6,120.1 C488.5,120.07 490.08,119.87 492.3,118.7 C494.52,117.53 497.37,115.47 499.9,113.1 C502.43,110.73 504.97,107.25 507.5,104.5 C510.03,101.75 512.57,98.97 515.1,96.6 C517.63,94.23 520.22,92.23 522.7,90.3 C525.18,88.37 528.05,86.48 530,85 C531.95,83.52 533.13,82.77 534.4,81.4 C535.67,80.03 536.62,79.53 537.6,76.8 C538.58,74.07 539.42,70.3 540.3,65 C541.18,59.7 542.12,49.85 542.9,45 C543.68,40.15 544.28,36.4 545,35.9 C545.72,35.4 546.37,39.28 547.2,42 C548.03,44.72 548.92,49.8 550,52.2 C551.08,54.6 552.5,55.7 553.7,56.4 C554.9,57.1 555.9,56.88 557.2,56.4 C558.5,55.92 559.32,55.15 561.5,53.5 C563.68,51.85 566.78,49.27 570.3,46.5 C573.82,43.73 578.22,39.8 582.6,36.9 C586.98,34 592.23,31.15 596.6,29.1 C600.97,27.05 604.42,25.83 608.8,24.6 C613.18,23.37 618.52,22.42 622.9,21.7 C627.28,20.98 630.73,20.72 635.1,20.3 C639.47,19.88 646.77,19.38 649.1,19.2" fill="none" stroke="#dc3a36" stroke-width="1.5"/>
<path d="M409.2,79.3 C410.08,80.15 412.67,83.02 414.5,84.4 C416.33,85.78 417.98,86.62 420.2,87.6 C422.42,88.58 425.27,89.43 427.8,90.3 C430.33,91.17 432.87,91.95 435.4,92.8 C437.93,93.65 440.48,94.4 443,95.4 C445.52,96.4 447.98,97.43 450.5,98.8 C453.02,100.17 455.57,101.85 458.1,103.6 C460.63,105.35 463.17,107.4 465.7,109.3 C468.23,111.2 470.77,113.4 473.3,115 C475.83,116.6 478.68,118.05 480.9,118.9 C483.12,119.75 484.7,120.13 486.6,120.1 C488.5,120.07 490.08,119.87 492.3,118.7 C494.52,117.53 497.37,115.47 499.9,113.1 C502.43,110.73 504.97,107.25 507.5,104.5 C510.03,101.75 512.57,98.97 515.1,96.6 C517.63,94.23 520.22,92.23 522.7,90.3 C525.18,88.37 528.05,86.48 530,85 C531.95,83.52 533.13,82.77 534.4,81.4 C535.67,80.03 536.62,79.53 537.6,76.8 C538.58,74.07 539.42,70.3 540.3,65 C541.18,59.7 542.12,49.85 542.9,45 C543.68,40.15 544.28,36.4 545,35.9 C545.72,35.4 546.37,39.28 547.2,42 C548.03,44.72 548.92,49.8 550,52.2 C551.08,54.6 552.5,55.7 553.7,56.4 C554.9,57.1 555.9,56.88 557.2,56.4 C558.5,55.92 559.32,55.15 561.5,53.5 C563.68,51.85 566.78,49.27 570.3,46.5 C573.82,43.73 578.22,39.8 582.6,36.9 C586.98,34 592.23,31.15 596.6,29.1 C600.97,27.05 604.42,25.83 608.8,24.6 C613.18,23.37 618.52,22.42 622.9,21.7 C627.28,20.98 630.73,20.72 635.1,20.3 C639.47,19.88 646.77,19.38 649.1,19.2" fill="none" stroke="#4a82c6" stroke-width="1.5" stroke-dasharray="3,3"/>
<path d="M409.3,214.6 C409.77,213.07 411.18,207.95 412.1,205.4 C413.02,202.85 413.95,200.42 414.8,199.3 C415.65,198.18 416.28,198.53 417.2,198.7 C418.12,198.87 419.12,200.63 420.3,200.3 C421.48,199.97 422.95,197.55 424.3,196.7 C425.65,195.85 427.03,195.45 428.4,195.2 C429.77,194.95 431.13,194.68 432.5,195.2 C433.87,195.72 435.08,197.1 436.6,198.3 C438.12,199.5 439.73,201.45 441.6,202.4 C443.47,203.35 445.75,203.73 447.8,204 C449.85,204.27 451.87,203.6 453.9,204 C455.93,204.4 457.97,205.48 460,206.4 C462.03,207.32 464.07,208.13 466.1,209.5 C468.13,210.87 470.17,212.8 472.2,214.6 C474.23,216.4 476.43,218.88 478.3,220.3 C480.17,221.72 481.7,222.43 483.4,223.1 C485.1,223.77 486.63,223.78 488.5,224.3 C490.37,224.82 492.92,225.95 494.6,226.2 C496.28,226.45 496.9,226.45 498.6,225.8 C500.3,225.15 502.75,223.67 504.8,222.3 C506.85,220.93 509.03,219.9 510.9,217.6 C512.77,215.3 514.32,211.03 516,208.5 C517.68,205.97 519.48,204.35 521,202.4 C522.52,200.45 523.75,198.5 525.1,196.8 C526.45,195.1 527.58,193.82 529.1,192.2 C530.62,190.58 532.85,187.72 534.2,187.1 C535.55,186.48 536.35,189.18 537.2,188.5 C538.05,187.82 538.62,186.8 539.3,183 C539.98,179.2 540.63,170.95 541.3,165.7 C541.97,160.45 542.68,154.38 543.3,151.5 C543.92,148.62 544.38,147.73 545,148.4 C545.62,149.07 546.33,150.92 547,155.5 C547.67,160.08 548.32,170.87 549,175.9 C549.68,180.93 550.35,184.35 551.1,185.7 C551.85,187.05 552.48,184.78 553.5,184 C554.52,183.22 556.18,181.17 557.2,181 C558.22,180.83 558.87,181.82 559.6,183 C560.33,184.18 560.85,186.73 561.6,188.1 C562.35,189.47 563.25,191.7 564.1,191.2 C564.95,190.7 565.75,186.12 566.7,185.1 C567.65,184.08 568.6,185.45 569.8,185.1 C571,184.75 572.72,184.2 573.9,183 C575.08,181.8 575.88,179.6 576.9,177.9 C577.92,176.2 579.08,173.53 580,172.8 C580.92,172.07 581.45,172.98 582.4,173.5 C583.35,174.02 584.58,176.52 585.7,175.9 C586.82,175.28 587.85,172.85 589.1,169.8 C590.35,166.75 591.83,161.17 593.2,157.6 C594.57,154.03 596.12,151.28 597.3,148.4 C598.48,145.52 599.28,141.75 600.3,140.3 C601.32,138.85 602.45,139.95 603.4,139.7 C604.35,139.45 604.98,138.53 606,138.8 C607.02,139.07 607.9,140.2 609.5,141.3 C611.1,142.4 614.08,145.23 615.6,145.4 C617.12,145.57 617.42,143.6 618.6,142.3 C619.78,141 621.5,138.38 622.7,137.6 C623.9,136.82 624.62,136.98 625.8,137.6 C626.98,138.22 628.28,142.05 629.8,141.3 C631.32,140.55 633.37,134.12 634.9,133.1 C636.43,132.08 637.63,136.28 639,135.2 C640.37,134.12 641.92,127.78 643.1,126.6 C644.28,125.42 645.08,128.2 646.1,128.1 C647.12,128 648.68,126.35 649.2,126" fill="none" stroke="#dc3a36" stroke-width="1.5"/>
<path d="M409.3,208.5 C410.12,207.13 412.53,202.17 414.2,200.3 C415.87,198.43 417.43,198.15 419.3,197.3 C421.17,196.45 423.7,195.67 425.4,195.2 C427.1,194.73 428.32,194.83 429.5,194.5 C430.68,194.17 431.5,192.73 432.5,193.2 C433.5,193.67 433.98,195.6 435.5,197.3 C437.02,199 439.55,202.38 441.6,203.4 C443.65,204.42 445.93,203.75 447.8,203.4 C449.67,203.05 451.12,200.97 452.8,201.3 C454.48,201.63 455.68,203.87 457.9,205.4 C460.12,206.93 463.38,208.97 466.1,210.5 C468.82,212.03 471.83,213.07 474.2,214.6 C476.57,216.13 478.27,218.28 480.3,219.7 C482.33,221.12 484.02,222.6 486.4,223.1 C488.78,223.6 492.22,222.5 494.6,222.7 C496.98,222.9 498.67,224.98 500.7,224.3 C502.73,223.62 504.93,220.57 506.8,218.6 C508.67,216.63 510.37,214.87 511.9,212.5 C513.43,210.13 514.48,207.45 516,204.4 C517.52,201.35 519.48,196.23 521,194.2 C522.52,192.17 523.58,192.88 525.1,192.2 C526.62,191.52 528.58,190.72 530.1,190.1 C531.62,189.48 532.85,188.32 534.2,188.5 C535.55,188.68 537.08,193.3 538.2,191.2 C539.32,189.1 540.05,182.35 540.9,175.9 C541.75,169.45 542.55,157.18 543.3,152.5 C544.05,147.82 544.72,146.28 545.4,147.8 C546.08,149.32 546.67,156.4 547.4,161.6 C548.13,166.8 548.78,174.92 549.8,179 C550.82,183.08 552.03,184.75 553.5,186.1 C554.97,187.45 557.07,186.6 558.6,187.1 C560.13,187.6 561.35,189.78 562.7,189.1 C564.05,188.42 565.52,183.85 566.7,183 C567.88,182.15 568.78,183.32 569.8,184 C570.82,184.68 571.62,187.77 572.8,187.1 C573.98,186.43 575.37,182.72 576.9,180 C578.43,177.28 580.13,173.35 582,170.8 C583.87,168.25 586.4,166.57 588.1,164.7 C589.8,162.83 590.83,160.28 592.2,159.6 C593.57,158.92 594.95,161.95 596.3,160.6 C597.65,159.25 598.95,154.03 600.3,151.5 C601.65,148.97 603.03,147.43 604.4,145.4 C605.77,143.37 607.15,139.82 608.5,139.3 C609.85,138.78 610.82,141.12 612.5,142.3 C614.18,143.48 616.55,146.73 618.6,146.4 C620.65,146.07 622.93,140.98 624.8,140.3 C626.67,139.62 628.12,143.5 629.8,142.3 C631.48,141.1 633.7,135.47 634.9,133.1 C636.1,130.73 635.97,128.83 637,128.1 C638.03,127.37 639.75,127.68 641.1,128.7 C642.45,129.72 643.75,132.1 645.1,134.2 C646.45,136.3 648.52,140.12 649.2,141.3" fill="none" stroke="#4a82c6" stroke-width="1.5" stroke-dasharray="3,3"/>
<rect x="409.2" y="15.4" width="240" height="220.2" fill="none" stroke="#8a8a8a" stroke-width="1" />
<line x1="409.2" y1="125.3" x2="649.2" y2="125.3" stroke="#8a8a8a" stroke-width="1" />
<line x1="409.2" y1="125.3" x2="412.2" y2="125.3" stroke="#8a8a8a" stroke-width="1" />
<line x1="649.2" y1="125.3" x2="646.2" y2="125.3" stroke="#8a8a8a" stroke-width="1" />
<line x1="409.2" y1="70.35" x2="412.2" y2="70.35" stroke="#8a8a8a" stroke-width="1" />
<line x1="649.2" y1="70.35" x2="646.2" y2="70.35" stroke="#8a8a8a" stroke-width="1" />
<line x1="409.2" y1="15.4" x2="412.2" y2="15.4" stroke="#8a8a8a" stroke-width="1" />
<line x1="649.2" y1="15.4" x2="646.2" y2="15.4" stroke="#8a8a8a" stroke-width="1" />
<line x1="409.2" y1="234.8" x2="412.2" y2="234.8" stroke="#8a8a8a" stroke-width="1" />
<line x1="649.2" y1="234.8" x2="646.2" y2="234.8" stroke="#8a8a8a" stroke-width="1" />
<line x1="409.2" y1="180.05" x2="412.2" y2="180.05" stroke="#8a8a8a" stroke-width="1" />
<line x1="649.2" y1="180.05" x2="646.2" y2="180.05" stroke="#8a8a8a" stroke-width="1" />
<text x="406.5" y="19.7" font-size="12" text-anchor="end" font-weight="normal" font-style="normal" fill="#141414" >100</text>
<text x="406.5" y="74.6" font-size="12" text-anchor="end" font-weight="normal" font-style="normal" fill="#141414" >50</text>
<text x="406.5" y="129.6" font-size="12" text-anchor="end" font-weight="normal" font-style="normal" fill="#141414" >0</text>
<text x="406.5" y="184.3" font-size="12" text-anchor="end" font-weight="normal" font-style="normal" fill="#141414" >50</text>
<text x="406.5" y="239" font-size="12" text-anchor="end" font-weight="normal" font-style="normal" fill="#141414" >0</text>
<line x1="409.2" y1="235.6" x2="409.2" y2="232.6" stroke="#8a8a8a" stroke-width="1" />
<line x1="409.2" y1="15.4" x2="409.2" y2="18.4" stroke="#8a8a8a" stroke-width="1" />
<line x1="409.2" y1="125.3" x2="409.2" y2="122.3" stroke="#8a8a8a" stroke-width="1" />
<line x1="409.2" y1="125.3" x2="409.2" y2="128.3" stroke="#8a8a8a" stroke-width="1" />
<text x="409.2" y="247.3" font-size="12" text-anchor="middle" font-weight="normal" font-style="normal" fill="#141414" >1400</text>
<line x1="489.23" y1="235.6" x2="489.23" y2="232.6" stroke="#8a8a8a" stroke-width="1" />
<line x1="489.23" y1="15.4" x2="489.23" y2="18.4" stroke="#8a8a8a" stroke-width="1" />
<line x1="489.23" y1="125.3" x2="489.23" y2="122.3" stroke="#8a8a8a" stroke-width="1" />
<line x1="489.23" y1="125.3" x2="489.23" y2="128.3" stroke="#8a8a8a" stroke-width="1" />
<text x="489.23" y="247.3" font-size="12" text-anchor="middle" font-weight="normal" font-style="normal" fill="#141414" >1500</text>
<line x1="569.26" y1="235.6" x2="569.26" y2="232.6" stroke="#8a8a8a" stroke-width="1" />
<line x1="569.26" y1="15.4" x2="569.26" y2="18.4" stroke="#8a8a8a" stroke-width="1" />
<line x1="569.26" y1="125.3" x2="569.26" y2="122.3" stroke="#8a8a8a" stroke-width="1" />
<line x1="569.26" y1="125.3" x2="569.26" y2="128.3" stroke="#8a8a8a" stroke-width="1" />
<text x="569.26" y="247.3" font-size="12" text-anchor="middle" font-weight="normal" font-style="normal" fill="#141414" >1600</text>
<line x1="649.29" y1="235.6" x2="649.29" y2="232.6" stroke="#8a8a8a" stroke-width="1" />
<line x1="649.29" y1="15.4" x2="649.29" y2="18.4" stroke="#8a8a8a" stroke-width="1" />
<line x1="649.29" y1="125.3" x2="649.29" y2="122.3" stroke="#8a8a8a" stroke-width="1" />
<line x1="649.29" y1="125.3" x2="649.29" y2="128.3" stroke="#8a8a8a" stroke-width="1" />
<text x="649.29" y="247.3" font-size="12" text-anchor="middle" font-weight="normal" font-style="normal" fill="#141414" >1700</text>
<text x="529.3" y="262.8" font-size="13" text-anchor="middle" font-weight="normal" font-style="normal" fill="#141414" >Wavelength (nm)</text>
<text transform="translate(384.7,127) rotate(-90)" x="0" y="0" font-size="13.3" text-anchor="middle" fill="#141414" >Transmission (%)</text>
<line x1="416.2" y1="25.4" x2="431.2" y2="25.4" stroke="#dc3a36" stroke-width="1.5" />
<line x1="416.2" y1="41.8" x2="431.2" y2="41.8" stroke="#4a82c6" stroke-width="1.5" stroke-dasharray="3,3"/>
<text x="436.6" y="29.8" font-size="13" text-anchor="start" font-weight="normal" font-style="normal" fill="#141414" >Sim. Forward</text>
<text x="436.6" y="46.2" font-size="13" text-anchor="start" font-weight="normal" font-style="normal" fill="#141414" >Sim. Backward</text>
<line x1="416.2" y1="135.3" x2="431.2" y2="135.3" stroke="#dc3a36" stroke-width="1.5" />
<line x1="416.2" y1="151.6" x2="431.2" y2="151.6" stroke="#4a82c6" stroke-width="1.5" stroke-dasharray="3,3"/>
<text x="436.6" y="140.2" font-size="13" text-anchor="start" font-weight="normal" font-style="normal" fill="#141414" >Exp. Forward</text>
<text x="436.6" y="156.4" font-size="13" text-anchor="start" font-weight="normal" font-style="normal" fill="#141414" >Exp. Backward</text>
</g>
<g id="panel-c">
<text x="24.2" y="300.4" font-size="17" text-anchor="start" font-weight="bold" font-style="normal" fill="#000" >c</text>
<path d="M49.2,417 C49.97,416.92 52.05,416.65 53.8,416.5 C55.55,416.35 57.75,416.17 59.7,416.1 C61.65,416.03 63.55,416.23 65.5,416.1 C67.45,415.97 69.45,415.63 71.4,415.3 C73.35,414.97 75.27,414.55 77.2,414.1 C79.13,413.65 81.05,413.18 83,412.6 C84.95,412.02 86.95,411.32 88.9,410.6 C90.85,409.88 92.75,409.13 94.7,408.3 C96.65,407.47 98.65,406.45 100.6,405.6 C102.55,404.75 104.65,403.98 106.4,403.2 C108.15,402.42 109.8,401.63 111.1,400.9 C112.4,400.17 112.52,399.98 114.2,398.8 C115.88,397.62 119.4,394.97 121.2,393.8 C123,392.63 123.58,392.53 125,391.8 C126.42,391.07 128.12,390.1 129.7,389.4 C131.28,388.7 132.92,388.12 134.5,387.6 C136.08,387.08 137.62,386.58 139.2,386.3 C140.78,386.02 142.42,385.9 144,385.9 C145.58,385.9 147.12,386.1 148.7,386.3 C150.28,386.5 151.92,386.88 153.5,387.1 C155.08,387.32 156.62,387.48 158.2,387.6 C159.78,387.72 161.42,387.8 163,387.8 C164.58,387.8 166.13,387.92 167.7,387.6 C169.27,387.28 170.82,386.78 172.4,385.9 C173.98,385.02 175.9,383.45 177.2,382.3 C178.5,381.15 179.48,379.72 180.2,379 C180.92,378.28 181.12,377.92 181.5,378 C181.88,378.08 182.2,378.5 182.5,379.5 C182.8,380.5 183.03,382.17 183.3,384 C183.57,385.83 183.77,388.07 184.1,390.5 C184.43,392.93 184.88,396.8 185.3,398.6 C185.72,400.4 186.15,400.88 186.6,401.3 C187.05,401.72 187.18,401.5 188,401.1 C188.82,400.7 190.03,399.43 191.5,398.9 C192.97,398.37 195.05,398 196.8,397.9 C198.55,397.8 200.23,398.02 202,398.3 C203.77,398.58 205.73,399.22 207.4,399.6 C209.07,399.98 210.33,400.18 212,400.6 C213.67,401.02 214.43,401.23 217.4,402.1 C220.37,402.97 225.67,404.6 229.8,405.8 C233.93,407 238.07,408.32 242.2,409.3 C246.33,410.28 250.47,411.03 254.6,411.7 C258.73,412.37 262.87,412.87 267,413.3 C271.13,413.73 275.87,414.05 279.4,414.3 C282.93,414.55 286.73,414.72 288.2,414.8 L288.2,418 L49.2,418 Z" fill="#e1ecfc"/>
<path d="M49.2,376.8 C49.48,378.45 50.32,384.5 50.9,386.7 C51.48,388.9 52.02,389.42 52.7,390 C53.38,390.58 53.83,390.27 55,390.2 C56.17,390.13 57.95,389.63 59.7,389.6 C61.45,389.57 63.55,389.75 65.5,390 C67.45,390.25 69.45,390.68 71.4,391.1 C73.35,391.52 75.27,391.97 77.2,392.5 C79.13,393.03 81.05,393.72 83,394.3 C84.95,394.88 86.95,395.42 88.9,396 C90.85,396.58 92.75,397.22 94.7,397.8 C96.65,398.38 98.65,398.98 100.6,399.5 C102.55,400.02 104.65,400.55 106.4,400.9 C108.15,401.25 109.15,401.43 111.1,401.6 C113.05,401.77 115.78,401.95 118.1,401.9 C120.42,401.85 123.07,401.55 125,401.3 C126.93,401.05 128.12,400.72 129.7,400.4 C131.28,400.08 132.92,399.68 134.5,399.4 C136.08,399.12 137.62,398.85 139.2,398.7 C140.78,398.55 141.62,398.47 144,398.5 C146.38,398.53 150.33,398.75 153.5,398.9 C156.67,399.05 159.85,399.35 163,399.4 C166.15,399.45 170.2,399.38 172.4,399.2 C174.6,399.02 175.08,399.08 176.2,398.3 C177.32,397.52 178.33,395.68 179.1,394.5 C179.87,393.32 180.37,392.03 180.8,391.2 C181.23,390.37 181.4,392.07 181.7,389.5 C182,386.93 182.3,382.52 182.6,375.8 C182.9,369.08 183.2,358.05 183.5,349.2 C183.8,340.35 184.13,328.9 184.4,322.7 C184.67,316.5 184.87,314.3 185.1,312 C185.33,309.7 185.58,308.98 185.8,308.9 C186.02,308.82 186.2,310.38 186.4,311.5 C186.6,312.62 186.68,313.15 187,315.6 C187.32,318.05 187.85,322.65 188.3,326.2 C188.75,329.75 189.02,332.77 189.7,336.9 C190.38,341.03 191.52,347.17 192.4,351 C193.28,354.83 193.98,357.1 195,359.9 C196.02,362.7 197.02,365.3 198.5,367.8 C199.98,370.3 201.65,372.53 203.9,374.9 C206.15,377.27 209.75,380.15 212,382 C214.25,383.85 214.43,384.2 217.4,386 C220.37,387.8 225.67,390.83 229.8,392.8 C233.93,394.77 238.07,396.45 242.2,397.8 C246.33,399.15 250.47,400.02 254.6,400.9 C258.73,401.78 262.87,402.48 267,403.1 C271.13,403.72 275.87,404.2 279.4,404.6 C282.93,405 286.73,405.35 288.2,405.5 L288.2,418 L49.2,418 Z" fill="#fde5e5"/>
<path d="M49.2,376.8 C49.48,378.45 50.32,384.5 50.9,386.7 C51.48,388.9 52.02,389.42 52.7,390 C53.38,390.58 53.83,390.27 55,390.2 C56.17,390.13 57.95,389.63 59.7,389.6 C61.45,389.57 63.55,389.75 65.5,390 C67.45,390.25 69.45,390.68 71.4,391.1 C73.35,391.52 75.27,391.97 77.2,392.5 C79.13,393.03 81.05,393.72 83,394.3 C84.95,394.88 86.95,395.42 88.9,396 C90.85,396.58 92.75,397.22 94.7,397.8 C96.65,398.38 98.65,398.98 100.6,399.5 C102.55,400.02 104.65,400.55 106.4,400.9 C108.15,401.25 109.15,401.43 111.1,401.6 C113.05,401.77 115.78,401.95 118.1,401.9 C120.42,401.85 123.07,401.55 125,401.3 C126.93,401.05 128.12,400.72 129.7,400.4 C131.28,400.08 132.92,399.68 134.5,399.4 C136.08,399.12 137.62,398.85 139.2,398.7 C140.78,398.55 141.62,398.47 144,398.5 C146.38,398.53 150.33,398.75 153.5,398.9 C156.67,399.05 159.85,399.35 163,399.4 C166.15,399.45 170.2,399.38 172.4,399.2 C174.6,399.02 175.08,399.08 176.2,398.3 C177.32,397.52 178.33,395.68 179.1,394.5 C179.87,393.32 180.37,392.03 180.8,391.2 C181.23,390.37 181.4,392.07 181.7,389.5 C182,386.93 182.3,382.52 182.6,375.8 C182.9,369.08 183.2,358.05 183.5,349.2 C183.8,340.35 184.13,328.9 184.4,322.7 C184.67,316.5 184.87,314.3 185.1,312 C185.33,309.7 185.58,308.98 185.8,308.9 C186.02,308.82 186.2,310.38 186.4,311.5 C186.6,312.62 186.68,313.15 187,315.6 C187.32,318.05 187.85,322.65 188.3,326.2 C188.75,329.75 189.02,332.77 189.7,336.9 C190.38,341.03 191.52,347.17 192.4,351 C193.28,354.83 193.98,357.1 195,359.9 C196.02,362.7 197.02,365.3 198.5,367.8 C199.98,370.3 201.65,372.53 203.9,374.9 C206.15,377.27 209.75,380.15 212,382 C214.25,383.85 214.43,384.2 217.4,386 C220.37,387.8 225.67,390.83 229.8,392.8 C233.93,394.77 238.07,396.45 242.2,397.8 C246.33,399.15 250.47,400.02 254.6,400.9 C258.73,401.78 262.87,402.48 267,403.1 C271.13,403.72 275.87,404.2 279.4,404.6 C282.93,405 286.73,405.35 288.2,405.5 L288.2,418 L49.2,418 Z" fill="#e4dcec" clip-path="url(#cmd0)"/>
<path d="M49.2,376.8 C49.48,378.45 50.32,384.5 50.9,386.7 C51.48,388.9 52.02,389.42 52.7,390 C53.38,390.58 53.83,390.27 55,390.2 C56.17,390.13 57.95,389.63 59.7,389.6 C61.45,389.57 63.55,389.75 65.5,390 C67.45,390.25 69.45,390.68 71.4,391.1 C73.35,391.52 75.27,391.97 77.2,392.5 C79.13,393.03 81.05,393.72 83,394.3 C84.95,394.88 86.95,395.42 88.9,396 C90.85,396.58 92.75,397.22 94.7,397.8 C96.65,398.38 98.65,398.98 100.6,399.5 C102.55,400.02 104.65,400.55 106.4,400.9 C108.15,401.25 109.15,401.43 111.1,401.6 C113.05,401.77 115.78,401.95 118.1,401.9 C120.42,401.85 123.07,401.55 125,401.3 C126.93,401.05 128.12,400.72 129.7,400.4 C131.28,400.08 132.92,399.68 134.5,399.4 C136.08,399.12 137.62,398.85 139.2,398.7 C140.78,398.55 141.62,398.47 144,398.5 C146.38,398.53 150.33,398.75 153.5,398.9 C156.67,399.05 159.85,399.35 163,399.4 C166.15,399.45 170.2,399.38 172.4,399.2 C174.6,399.02 175.08,399.08 176.2,398.3 C177.32,397.52 178.33,395.68 179.1,394.5 C179.87,393.32 180.37,392.03 180.8,391.2 C181.23,390.37 181.4,392.07 181.7,389.5 C182,386.93 182.3,382.52 182.6,375.8 C182.9,369.08 183.2,358.05 183.5,349.2 C183.8,340.35 184.13,328.9 184.4,322.7 C184.67,316.5 184.87,314.3 185.1,312 C185.33,309.7 185.58,308.98 185.8,308.9 C186.02,308.82 186.2,310.38 186.4,311.5 C186.6,312.62 186.68,313.15 187,315.6 C187.32,318.05 187.85,322.65 188.3,326.2 C188.75,329.75 189.02,332.77 189.7,336.9 C190.38,341.03 191.52,347.17 192.4,351 C193.28,354.83 193.98,357.1 195,359.9 C196.02,362.7 197.02,365.3 198.5,367.8 C199.98,370.3 201.65,372.53 203.9,374.9 C206.15,377.27 209.75,380.15 212,382 C214.25,383.85 214.43,384.2 217.4,386 C220.37,387.8 225.67,390.83 229.8,392.8 C233.93,394.77 238.07,396.45 242.2,397.8 C246.33,399.15 250.47,400.02 254.6,400.9 C258.73,401.78 262.87,402.48 267,403.1 C271.13,403.72 275.87,404.2 279.4,404.6 C282.93,405 286.73,405.35 288.2,405.5" fill="none" stroke="#d4393a" stroke-width="1.4"/>
<path d="M49.2,417 C49.97,416.92 52.05,416.65 53.8,416.5 C55.55,416.35 57.75,416.17 59.7,416.1 C61.65,416.03 63.55,416.23 65.5,416.1 C67.45,415.97 69.45,415.63 71.4,415.3 C73.35,414.97 75.27,414.55 77.2,414.1 C79.13,413.65 81.05,413.18 83,412.6 C84.95,412.02 86.95,411.32 88.9,410.6 C90.85,409.88 92.75,409.13 94.7,408.3 C96.65,407.47 98.65,406.45 100.6,405.6 C102.55,404.75 104.65,403.98 106.4,403.2 C108.15,402.42 109.8,401.63 111.1,400.9 C112.4,400.17 112.52,399.98 114.2,398.8 C115.88,397.62 119.4,394.97 121.2,393.8 C123,392.63 123.58,392.53 125,391.8 C126.42,391.07 128.12,390.1 129.7,389.4 C131.28,388.7 132.92,388.12 134.5,387.6 C136.08,387.08 137.62,386.58 139.2,386.3 C140.78,386.02 142.42,385.9 144,385.9 C145.58,385.9 147.12,386.1 148.7,386.3 C150.28,386.5 151.92,386.88 153.5,387.1 C155.08,387.32 156.62,387.48 158.2,387.6 C159.78,387.72 161.42,387.8 163,387.8 C164.58,387.8 166.13,387.92 167.7,387.6 C169.27,387.28 170.82,386.78 172.4,385.9 C173.98,385.02 175.9,383.45 177.2,382.3 C178.5,381.15 179.48,379.72 180.2,379 C180.92,378.28 181.12,377.92 181.5,378 C181.88,378.08 182.2,378.5 182.5,379.5 C182.8,380.5 183.03,382.17 183.3,384 C183.57,385.83 183.77,388.07 184.1,390.5 C184.43,392.93 184.88,396.8 185.3,398.6 C185.72,400.4 186.15,400.88 186.6,401.3 C187.05,401.72 187.18,401.5 188,401.1 C188.82,400.7 190.03,399.43 191.5,398.9 C192.97,398.37 195.05,398 196.8,397.9 C198.55,397.8 200.23,398.02 202,398.3 C203.77,398.58 205.73,399.22 207.4,399.6 C209.07,399.98 210.33,400.18 212,400.6 C213.67,401.02 214.43,401.23 217.4,402.1 C220.37,402.97 225.67,404.6 229.8,405.8 C233.93,407 238.07,408.32 242.2,409.3 C246.33,410.28 250.47,411.03 254.6,411.7 C258.73,412.37 262.87,412.87 267,413.3 C271.13,413.73 275.87,414.05 279.4,414.3 C282.93,414.55 286.73,414.72 288.2,414.8" fill="none" stroke="#4b7fc3" stroke-width="1.4"/>
<path d="M49.2,522.2 C49.97,522.4 52.05,523 53.8,523.4 C55.55,523.8 57.75,524.32 59.7,524.6 C61.65,524.88 63.55,525.02 65.5,525.1 C67.45,525.18 69.45,525.23 71.4,525.1 C73.35,524.97 75.27,524.68 77.2,524.3 C79.13,523.92 81.05,523.43 83,522.8 C84.95,522.17 86.95,521.42 88.9,520.5 C90.85,519.58 92.75,518.53 94.7,517.3 C96.65,516.07 98.65,514.52 100.6,513.1 C102.55,511.68 104.65,510.13 106.4,508.8 C108.15,507.47 109.15,506.95 111.1,505.1 C113.05,503.25 115.97,500 118.1,497.7 C120.23,495.4 122.25,493.12 123.9,491.3 C125.55,489.48 126.78,488 128,486.8 C129.22,485.6 129.63,485.17 131.2,484.1 C132.77,483.03 135.33,481.22 137.4,480.4 C139.47,479.58 141.53,479.33 143.6,479.2 C145.67,479.07 147.73,479.4 149.8,479.6 C151.87,479.8 153.93,480.12 156,480.4 C158.07,480.68 160.15,480.98 162.2,481.3 C164.25,481.62 166.25,481.83 168.3,482.3 C170.35,482.77 172.63,483.28 174.5,484.1 C176.37,484.92 178.37,486.58 179.5,487.2 C180.63,487.82 180.68,489.03 181.3,487.8 C181.92,486.57 182.57,482.58 183.2,479.8 C183.83,477.02 184.52,473 185.1,471.1 C185.68,469.2 185.98,468.5 186.7,468.4 C187.42,468.3 188.13,469.42 189.4,470.5 C190.67,471.58 192.65,473.48 194.3,474.9 C195.95,476.32 197.25,477.28 199.3,479 C201.35,480.72 204.3,483.3 206.6,485.2 C208.9,487.1 210.92,488.55 213.1,490.4 C215.28,492.25 217.5,494.45 219.7,496.3 C221.9,498.15 224.1,499.87 226.3,501.5 C228.5,503.13 230.72,504.78 232.9,506.1 C235.08,507.42 237.22,508.3 239.4,509.4 C241.58,510.5 243.8,511.72 246,512.7 C248.2,513.68 250.42,514.53 252.6,515.3 C254.78,516.07 256.92,516.7 259.1,517.3 C261.28,517.9 263.5,518.4 265.7,518.9 C267.9,519.4 270.12,519.92 272.3,520.3 C274.48,520.68 276.15,520.82 278.8,521.2 C281.45,521.58 286.63,522.37 288.2,522.6 L288.2,528.4 L49.2,528.4 Z" fill="#e1ecfc"/>
<path d="M49.2,494.8 C49.97,494.6 52.05,493.9 53.8,493.6 C55.55,493.3 57.75,493.03 59.7,493 C61.65,492.97 63.55,493.17 65.5,493.4 C67.45,493.63 69.45,493.97 71.4,494.4 C73.35,494.83 75.27,495.45 77.2,496 C79.13,496.55 81.05,497.12 83,497.7 C84.95,498.28 86.95,498.95 88.9,499.5 C90.85,500.05 92.75,500.52 94.7,501 C96.65,501.48 98.65,501.92 100.6,502.4 C102.55,502.88 104.65,503.45 106.4,503.9 C108.15,504.35 109.15,504.67 111.1,505.1 C113.05,505.53 115.78,506.08 118.1,506.5 C120.42,506.92 122.82,507.2 125,507.6 C127.18,508 129.13,508.37 131.2,508.9 C133.27,509.43 135.33,510.18 137.4,510.8 C139.47,511.42 141.53,511.98 143.6,512.6 C145.67,513.22 147.73,513.93 149.8,514.5 C151.87,515.07 153.93,515.53 156,516 C158.07,516.47 160.15,516.88 162.2,517.3 C164.25,517.72 166.25,518.25 168.3,518.5 C170.35,518.75 172.83,518.93 174.5,518.8 C176.17,518.67 177.17,517.98 178.3,517.7 C179.43,517.42 180.58,518.47 181.3,517.1 C182.02,515.73 182.18,513.45 182.6,509.5 C183.02,505.55 183.47,496.9 183.8,493.4 C184.13,489.9 184.35,489.53 184.6,488.5 C184.85,487.47 185.07,487.12 185.3,487.2 C185.53,487.28 185.73,487.75 186,489 C186.27,490.25 186.43,492.1 186.9,494.7 C187.37,497.3 187.97,501.5 188.8,504.6 C189.63,507.7 190.77,511.03 191.9,513.3 C193.03,515.57 194.17,516.97 195.6,518.2 C197.03,519.43 198.93,520.15 200.5,520.7 C202.07,521.25 203.55,521.25 205,521.5 C206.45,521.75 207.4,522.13 209.2,522.2 C211,522.27 212.95,522.1 215.8,521.9 C218.65,521.7 222.37,521.28 226.3,521 C230.23,520.72 235.02,520.42 239.4,520.2 C243.78,519.98 248.22,519.78 252.6,519.7 C256.98,519.62 261.33,519.67 265.7,519.7 C270.07,519.73 275.05,519.82 278.8,519.9 C282.55,519.98 286.63,520.15 288.2,520.2 L288.2,528.4 L49.2,528.4 Z" fill="#fde5e5"/>
<path d="M49.2,494.8 C49.97,494.6 52.05,493.9 53.8,493.6 C55.55,493.3 57.75,493.03 59.7,493 C61.65,492.97 63.55,493.17 65.5,493.4 C67.45,493.63 69.45,493.97 71.4,494.4 C73.35,494.83 75.27,495.45 77.2,496 C79.13,496.55 81.05,497.12 83,497.7 C84.95,498.28 86.95,498.95 88.9,499.5 C90.85,500.05 92.75,500.52 94.7,501 C96.65,501.48 98.65,501.92 100.6,502.4 C102.55,502.88 104.65,503.45 106.4,503.9 C108.15,504.35 109.15,504.67 111.1,505.1 C113.05,505.53 115.78,506.08 118.1,506.5 C120.42,506.92 122.82,507.2 125,507.6 C127.18,508 129.13,508.37 131.2,508.9 C133.27,509.43 135.33,510.18 137.4,510.8 C139.47,511.42 141.53,511.98 143.6,512.6 C145.67,513.22 147.73,513.93 149.8,514.5 C151.87,515.07 153.93,515.53 156,516 C158.07,516.47 160.15,516.88 162.2,517.3 C164.25,517.72 166.25,518.25 168.3,518.5 C170.35,518.75 172.83,518.93 174.5,518.8 C176.17,518.67 177.17,517.98 178.3,517.7 C179.43,517.42 180.58,518.47 181.3,517.1 C182.02,515.73 182.18,513.45 182.6,509.5 C183.02,505.55 183.47,496.9 183.8,493.4 C184.13,489.9 184.35,489.53 184.6,488.5 C184.85,487.47 185.07,487.12 185.3,487.2 C185.53,487.28 185.73,487.75 186,489 C186.27,490.25 186.43,492.1 186.9,494.7 C187.37,497.3 187.97,501.5 188.8,504.6 C189.63,507.7 190.77,511.03 191.9,513.3 C193.03,515.57 194.17,516.97 195.6,518.2 C197.03,519.43 198.93,520.15 200.5,520.7 C202.07,521.25 203.55,521.25 205,521.5 C206.45,521.75 207.4,522.13 209.2,522.2 C211,522.27 212.95,522.1 215.8,521.9 C218.65,521.7 222.37,521.28 226.3,521 C230.23,520.72 235.02,520.42 239.4,520.2 C243.78,519.98 248.22,519.78 252.6,519.7 C256.98,519.62 261.33,519.67 265.7,519.7 C270.07,519.73 275.05,519.82 278.8,519.9 C282.55,519.98 286.63,520.15 288.2,520.2 L288.2,528.4 L49.2,528.4 Z" fill="#e4dcec" clip-path="url(#cmd1)"/>
<path d="M49.2,494.8 C49.97,494.6 52.05,493.9 53.8,493.6 C55.55,493.3 57.75,493.03 59.7,493 C61.65,492.97 63.55,493.17 65.5,493.4 C67.45,493.63 69.45,493.97 71.4,494.4 C73.35,494.83 75.27,495.45 77.2,496 C79.13,496.55 81.05,497.12 83,497.7 C84.95,498.28 86.95,498.95 88.9,499.5 C90.85,500.05 92.75,500.52 94.7,501 C96.65,501.48 98.65,501.92 100.6,502.4 C102.55,502.88 104.65,503.45 106.4,503.9 C108.15,504.35 109.15,504.67 111.1,505.1 C113.05,505.53 115.78,506.08 118.1,506.5 C120.42,506.92 122.82,507.2 125,507.6 C127.18,508 129.13,508.37 131.2,508.9 C133.27,509.43 135.33,510.18 137.4,510.8 C139.47,511.42 141.53,511.98 143.6,512.6 C145.67,513.22 147.73,513.93 149.8,514.5 C151.87,515.07 153.93,515.53 156,516 C158.07,516.47 160.15,516.88 162.2,517.3 C164.25,517.72 166.25,518.25 168.3,518.5 C170.35,518.75 172.83,518.93 174.5,518.8 C176.17,518.67 177.17,517.98 178.3,517.7 C179.43,517.42 180.58,518.47 181.3,517.1 C182.02,515.73 182.18,513.45 182.6,509.5 C183.02,505.55 183.47,496.9 183.8,493.4 C184.13,489.9 184.35,489.53 184.6,488.5 C184.85,487.47 185.07,487.12 185.3,487.2 C185.53,487.28 185.73,487.75 186,489 C186.27,490.25 186.43,492.1 186.9,494.7 C187.37,497.3 187.97,501.5 188.8,504.6 C189.63,507.7 190.77,511.03 191.9,513.3 C193.03,515.57 194.17,516.97 195.6,518.2 C197.03,519.43 198.93,520.15 200.5,520.7 C202.07,521.25 203.55,521.25 205,521.5 C206.45,521.75 207.4,522.13 209.2,522.2 C211,522.27 212.95,522.1 215.8,521.9 C218.65,521.7 222.37,521.28 226.3,521 C230.23,520.72 235.02,520.42 239.4,520.2 C243.78,519.98 248.22,519.78 252.6,519.7 C256.98,519.62 261.33,519.67 265.7,519.7 C270.07,519.73 275.05,519.82 278.8,519.9 C282.55,519.98 286.63,520.15 288.2,520.2" fill="none" stroke="#d4393a" stroke-width="1.4"/>
<path d="M49.2,522.2 C49.97,522.4 52.05,523 53.8,523.4 C55.55,523.8 57.75,524.32 59.7,524.6 C61.65,524.88 63.55,525.02 65.5,525.1 C67.45,525.18 69.45,525.23 71.4,525.1 C73.35,524.97 75.27,524.68 77.2,524.3 C79.13,523.92 81.05,523.43 83,522.8 C84.95,522.17 86.95,521.42 88.9,520.5 C90.85,519.58 92.75,518.53 94.7,517.3 C96.65,516.07 98.65,514.52 100.6,513.1 C102.55,511.68 104.65,510.13 106.4,508.8 C108.15,507.47 109.15,506.95 111.1,505.1 C113.05,503.25 115.97,500 118.1,497.7 C120.23,495.4 122.25,493.12 123.9,491.3 C125.55,489.48 126.78,488 128,486.8 C129.22,485.6 129.63,485.17 131.2,484.1 C132.77,483.03 135.33,481.22 137.4,480.4 C139.47,479.58 141.53,479.33 143.6,479.2 C145.67,479.07 147.73,479.4 149.8,479.6 C151.87,479.8 153.93,480.12 156,480.4 C158.07,480.68 160.15,480.98 162.2,481.3 C164.25,481.62 166.25,481.83 168.3,482.3 C170.35,482.77 172.63,483.28 174.5,484.1 C176.37,484.92 178.37,486.58 179.5,487.2 C180.63,487.82 180.68,489.03 181.3,487.8 C181.92,486.57 182.57,482.58 183.2,479.8 C183.83,477.02 184.52,473 185.1,471.1 C185.68,469.2 185.98,468.5 186.7,468.4 C187.42,468.3 188.13,469.42 189.4,470.5 C190.67,471.58 192.65,473.48 194.3,474.9 C195.95,476.32 197.25,477.28 199.3,479 C201.35,480.72 204.3,483.3 206.6,485.2 C208.9,487.1 210.92,488.55 213.1,490.4 C215.28,492.25 217.5,494.45 219.7,496.3 C221.9,498.15 224.1,499.87 226.3,501.5 C228.5,503.13 230.72,504.78 232.9,506.1 C235.08,507.42 237.22,508.3 239.4,509.4 C241.58,510.5 243.8,511.72 246,512.7 C248.2,513.68 250.42,514.53 252.6,515.3 C254.78,516.07 256.92,516.7 259.1,517.3 C261.28,517.9 263.5,518.4 265.7,518.9 C267.9,519.4 270.12,519.92 272.3,520.3 C274.48,520.68 276.15,520.82 278.8,521.2 C281.45,521.58 286.63,522.37 288.2,522.6" fill="none" stroke="#4b7fc3" stroke-width="1.4"/>
<g clip-path="url(#hex0)">
<path d="M83.5,312.3 L109.8,327.8 L109.8,359.6 L83.5,375.4 L57.6,359.6 L57.6,327.8 Z" fill="#3f6eb1"/>
<rect x="55" y="308" width="58" height="70" fill="url(#glow0)"/>
<circle cx="83.6" cy="347.6" r="15.2" fill="none" stroke="#4a5670" stroke-width="0.45" opacity="0.75"/>
<g filter="url(#soft)">
<path d="M71.4,343 Q83.6,344 95.8,343 A13.2,13.2 0 1 1 71.4,343 Z" fill="url(#ring0)"/>
<ellipse cx="74.1" cy="349.1" rx="3.2" ry="6.5" fill="#f8e4b0" opacity="0.5"/>
<ellipse cx="83.3" cy="350.8" rx="5.2" ry="2.9" fill="#f2f2e6" opacity="0.85"/>
<ellipse cx="83.3" cy="350.8" rx="3.5" ry="1.6" fill="#3a68b0"/>
<ellipse cx="83.3" cy="344.6" rx="4.8" ry="2.4" fill="#e45a30"/>
<path d="M69.6,332.3 Q83.6,335.1 97.2,332.9 C95.1,340 90.1,343.7 83.3,343.7 C76.6,343.7 71.6,339.7 69.6,332.3 Z" fill="url(#bowl)"/>
</g>
</g>
<path d="M83.5,312.3 L109.8,327.8 L109.8,359.6 L83.5,375.4 L57.6,359.6 L57.6,327.8 Z" fill="none" stroke="#5a6f9a" stroke-width="0.4"/>
<rect x="113.6" y="312.6" width="4" height="61.8" fill="url(#cbc)" stroke="none" stroke-width="1" />
<text x="119.2" y="320.8" font-size="10" text-anchor="start" font-weight="normal" font-style="normal" fill="#141414" >16.4</text>
<text x="119.4" y="374.4" font-size="10" text-anchor="start" font-weight="normal" font-style="normal" fill="#141414" >0</text>
<text transform="translate(121.4,343.5) rotate(90)" font-size="10" text-anchor="middle" fill="#141414">|<tspan font-style="italic">E</tspan><tspan font-size="7" dy="2">F</tspan><tspan dy="-2">/</tspan><tspan font-style="italic">E</tspan><tspan font-size="7" dy="2">0</tspan><tspan dy="-2">|</tspan></text>
<path d="M53.2,375.6 L53.2,359" stroke="#111" stroke-width="0.9" marker-end="url(#arr)"/>
<path d="M53.2,375.6 L69.8,375.6" stroke="#111" stroke-width="0.9" marker-end="url(#arr)"/>
<text x="53.6" y="357.2" font-size="9.5" text-anchor="middle" font-weight="normal" font-style="italic" fill="#141414" >y</text>
<text x="73.6" y="378.6" font-size="9.5" text-anchor="middle" font-weight="normal" font-style="italic" fill="#141414" >x</text>
<g clip-path="url(#hex110)">
<path d="M83.5,422.6 L109.8,438.1 L109.8,469.9 L83.5,485.7 L57.6,469.9 L57.6,438.1 Z" fill="#3f6eb1"/>
<rect x="55" y="418.3" width="58" height="70" fill="url(#glow110)"/>
<circle cx="83.6" cy="457.9" r="15.2" fill="none" stroke="#4a5670" stroke-width="0.45" opacity="0.75"/>
<g filter="url(#soft)">
<path d="M71.4,453.3 Q83.6,454.3 95.8,453.3 A13.2,13.2 0 1 1 71.4,453.3 Z" fill="url(#ring110)"/>
<ellipse cx="74.1" cy="459.4" rx="3.2" ry="6.5" fill="#f8e4b0" opacity="0.5"/>
<ellipse cx="83.3" cy="461.1" rx="5.2" ry="2.9" fill="#f2f2e6" opacity="0.85"/>
<ellipse cx="83.3" cy="461.1" rx="3.5" ry="1.6" fill="#3a68b0"/>
<ellipse cx="83.3" cy="454.9" rx="4.8" ry="2.4" fill="#e45a30"/>
<path d="M69.6,442.6 Q83.6,445.4 97.2,443.2 C95.1,450.3 90.1,454 83.3,454 C76.6,454 71.6,450 69.6,442.6 Z" fill="url(#bowl)"/>
</g>
</g>
<path d="M83.5,422.6 L109.8,438.1 L109.8,469.9 L83.5,485.7 L57.6,469.9 L57.6,438.1 Z" fill="none" stroke="#5a6f9a" stroke-width="0.4"/>
<rect x="113.6" y="422.9" width="4" height="61.8" fill="url(#cbc)" stroke="none" stroke-width="1" />
<text x="119.2" y="431.1" font-size="10" text-anchor="start" font-weight="normal" font-style="normal" fill="#141414" >11.9</text>
<text x="119.4" y="484.7" font-size="10" text-anchor="start" font-weight="normal" font-style="normal" fill="#141414" >0</text>
<text transform="translate(121.4,453.8) rotate(90)" font-size="10" text-anchor="middle" fill="#141414">|<tspan font-style="italic">E</tspan><tspan font-size="7" dy="2">B</tspan><tspan dy="-2">/</tspan><tspan font-style="italic">E</tspan><tspan font-size="7" dy="2">0</tspan><tspan dy="-2">|</tspan></text>
<path d="M53.2,485.9 L53.2,469.3" stroke="#111" stroke-width="0.9" marker-end="url(#arr)"/>
<path d="M53.2,485.9 L69.8,485.9" stroke="#111" stroke-width="0.9" marker-end="url(#arr)"/>
<text x="53.6" y="467.5" font-size="9.5" text-anchor="middle" font-weight="normal" font-style="italic" fill="#141414" >y</text>
<text x="73.6" y="488.9" font-size="9.5" text-anchor="middle" font-weight="normal" font-style="italic" fill="#141414" >x</text>
<rect x="49.2" y="307.5" width="239.2" height="220.9" fill="none" stroke="#9a9a9a" stroke-width="1" />
<line x1="49.2" y1="418" x2="288.4" y2="418" stroke="#9a9a9a" stroke-width="1" />
<line x1="129.05" y1="307.5" x2="129.05" y2="310.5" stroke="#9a9a9a" stroke-width="1" />
<line x1="129.05" y1="418" x2="129.05" y2="415" stroke="#9a9a9a" stroke-width="1" />
<line x1="129.05" y1="418" x2="129.05" y2="421" stroke="#9a9a9a" stroke-width="1" />
<line x1="129.05" y1="528.4" x2="129.05" y2="525.4" stroke="#9a9a9a" stroke-width="1" />
<line x1="208.9" y1="307.5" x2="208.9" y2="310.5" stroke="#9a9a9a" stroke-width="1" />
<line x1="208.9" y1="418" x2="208.9" y2="415" stroke="#9a9a9a" stroke-width="1" />
<line x1="208.9" y1="418" x2="208.9" y2="421" stroke="#9a9a9a" stroke-width="1" />
<line x1="208.9" y1="528.4" x2="208.9" y2="525.4" stroke="#9a9a9a" stroke-width="1" />
<text x="49.5" y="540.9" font-size="12" text-anchor="middle" font-weight="normal" font-style="normal" fill="#141414" >1400</text>
<text x="129.35" y="540.9" font-size="12" text-anchor="middle" font-weight="normal" font-style="normal" fill="#141414" >1500</text>
<text x="209.2" y="540.9" font-size="12" text-anchor="middle" font-weight="normal" font-style="normal" fill="#141414" >1600</text>
<text x="289.05" y="540.9" font-size="12" text-anchor="middle" font-weight="normal" font-style="normal" fill="#141414" >1700</text>
<text x="168.8" y="555.9" font-size="13.15" text-anchor="middle" font-weight="normal" font-style="normal" fill="#141414" >Wavelength (nm)</text>
<text transform="translate(34.3,412.8) rotate(-90)" x="0" y="0" font-size="13.2" text-anchor="middle" fill="#141414" >Scattering power (arb. units)</text>
<text x="285.6" y="320.9" font-size="13.8" text-anchor="end" font-weight="normal" font-style="normal" fill="#141414" >Forward</text>
<text x="285.7" y="431.5" font-size="13.65" text-anchor="end" font-weight="normal" font-style="normal" fill="#141414" >Backward</text>
<line x1="242.2" y1="363.3" x2="260.2" y2="363.3" stroke="#d4393a" stroke-width="1.4" />
<line x1="242.2" y1="379.6" x2="260.2" y2="379.6" stroke="#4b7fc3" stroke-width="1.4" />
<text x="264" y="367.9" font-size="13" text-anchor="start" font-weight="normal" font-style="normal" fill="#141414" >ED</text>
<text x="264" y="384" font-size="13" text-anchor="start" font-weight="normal" font-style="normal" fill="#141414" >MD</text>
</g>
<g id="panel-d">
<text x="367" y="299.5" font-size="17" text-anchor="start" font-weight="bold" font-style="normal" fill="#000" >d</text>
<clipPath id="dclip"><rect x="403.0" y="313.7" width="237.8" height="218.7"/></clipPath>
<g clip-path="url(#dclip)">
<rect x="403.0" y="313.7" width="237.8" height="218.7" fill="url(#hm)"/>
<rect x="403" y="313.7" width="3" height="218.7" fill="url(#hm0)" shape-rendering="crispEdges"/>
<rect x="406" y="313.7" width="3" height="218.7" fill="url(#hm1)" shape-rendering="crispEdges"/>
<rect x="409" y="313.7" width="3" height="218.7" fill="url(#hm2)" shape-rendering="crispEdges"/>
<rect x="412" y="313.7" width="3" height="218.7" fill="url(#hm3)" shape-rendering="crispEdges"/>
<rect x="415" y="313.7" width="3" height="218.7" fill="url(#hm4)" shape-rendering="crispEdges"/>
<rect x="418" y="313.7" width="3" height="218.7" fill="url(#hm5)" shape-rendering="crispEdges"/>
<rect x="421" y="313.7" width="3" height="218.7" fill="url(#hm6)" shape-rendering="crispEdges"/>
<rect x="424" y="313.7" width="3" height="218.7" fill="url(#hm7)" shape-rendering="crispEdges"/>
<rect x="427" y="313.7" width="3" height="218.7" fill="url(#hm8)" shape-rendering="crispEdges"/>
<rect x="430" y="313.7" width="3" height="218.7" fill="url(#hm9)" shape-rendering="crispEdges"/>
<rect x="433" y="313.7" width="3" height="218.7" fill="url(#hm10)" shape-rendering="crispEdges"/>
<rect x="436" y="313.7" width="3" height="218.7" fill="url(#hm11)" shape-rendering="crispEdges"/>
<rect x="439" y="313.7" width="3" height="218.7" fill="url(#hm12)" shape-rendering="crispEdges"/>
<rect x="442" y="313.7" width="3" height="218.7" fill="url(#hm13)" shape-rendering="crispEdges"/>
<rect x="445" y="313.7" width="3" height="218.7" fill="url(#hm14)" shape-rendering="crispEdges"/>
<rect x="448" y="313.7" width="3" height="218.7" fill="url(#hm15)" shape-rendering="crispEdges"/>
<rect x="451" y="313.7" width="3" height="218.7" fill="url(#hm16)" shape-rendering="crispEdges"/>
<rect x="454" y="313.7" width="3" height="218.7" fill="url(#hm17)" shape-rendering="crispEdges"/>
<rect x="457" y="313.7" width="3" height="218.7" fill="url(#hm18)" shape-rendering="crispEdges"/>
<rect x="460" y="313.7" width="3" height="218.7" fill="url(#hm19)" shape-rendering="crispEdges"/>
<rect x="463" y="313.7" width="3" height="218.7" fill="url(#hm20)" shape-rendering="crispEdges"/>
<rect x="466" y="313.7" width="3" height="218.7" fill="url(#hm21)" shape-rendering="crispEdges"/>
<rect x="469" y="313.7" width="3" height="218.7" fill="url(#hm22)" shape-rendering="crispEdges"/>
<rect x="472" y="313.7" width="3" height="218.7" fill="url(#hm23)" shape-rendering="crispEdges"/>
<rect x="475" y="313.7" width="3" height="218.7" fill="url(#hm24)" shape-rendering="crispEdges"/>
<rect x="478" y="313.7" width="3" height="218.7" fill="url(#hm25)" shape-rendering="crispEdges"/>
<rect x="481" y="313.7" width="3" height="218.7" fill="url(#hm26)" shape-rendering="crispEdges"/>
<rect x="484" y="313.7" width="3" height="218.7" fill="url(#hm27)" shape-rendering="crispEdges"/>
<rect x="487" y="313.7" width="3" height="218.7" fill="url(#hm28)" shape-rendering="crispEdges"/>
<rect x="490" y="313.7" width="3" height="218.7" fill="url(#hm29)" shape-rendering="crispEdges"/>
<rect x="493" y="313.7" width="3" height="218.7" fill="url(#hm30)" shape-rendering="crispEdges"/>
<rect x="496" y="313.7" width="3" height="218.7" fill="url(#hm31)" shape-rendering="crispEdges"/>
<rect x="499" y="313.7" width="3" height="218.7" fill="url(#hm32)" shape-rendering="crispEdges"/>
<rect x="502" y="313.7" width="3" height="218.7" fill="url(#hm33)" shape-rendering="crispEdges"/>
<rect x="505" y="313.7" width="3" height="218.7" fill="url(#hm34)" shape-rendering="crispEdges"/>
<rect x="508" y="313.7" width="3" height="218.7" fill="url(#hm35)" shape-rendering="crispEdges"/>
<rect x="511" y="313.7" width="3" height="218.7" fill="url(#hm36)" shape-rendering="crispEdges"/>
<rect x="514" y="313.7" width="3" height="218.7" fill="url(#hm37)" shape-rendering="crispEdges"/>
<rect x="517" y="313.7" width="3" height="218.7" fill="url(#hm38)" shape-rendering="crispEdges"/>
<rect x="520" y="313.7" width="3" height="218.7" fill="url(#hm39)" shape-rendering="crispEdges"/>
<rect x="523" y="313.7" width="3" height="218.7" fill="url(#hm40)" shape-rendering="crispEdges"/>
<rect x="526" y="313.7" width="3" height="218.7" fill="url(#hm41)" shape-rendering="crispEdges"/>
<rect x="529" y="313.7" width="3" height="218.7" fill="url(#hm42)" shape-rendering="crispEdges"/>
<rect x="532" y="313.7" width="3" height="218.7" fill="url(#hm43)" shape-rendering="crispEdges"/>
<rect x="535" y="313.7" width="3" height="218.7" fill="url(#hm44)" shape-rendering="crispEdges"/>
<rect x="538" y="313.7" width="3" height="218.7" fill="url(#hm45)" shape-rendering="crispEdges"/>
<rect x="541" y="313.7" width="3" height="218.7" fill="url(#hm46)" shape-rendering="crispEdges"/>
<rect x="544" y="313.7" width="3" height="218.7" fill="url(#hm47)" shape-rendering="crispEdges"/>
<rect x="547" y="313.7" width="3" height="218.7" fill="url(#hm48)" shape-rendering="crispEdges"/>
<rect x="550" y="313.7" width="3" height="218.7" fill="url(#hm49)" shape-rendering="crispEdges"/>
<rect x="553" y="313.7" width="3" height="218.7" fill="url(#hm50)" shape-rendering="crispEdges"/>
<rect x="556" y="313.7" width="3" height="218.7" fill="url(#hm51)" shape-rendering="crispEdges"/>
<rect x="559" y="313.7" width="3" height="218.7" fill="url(#hm52)" shape-rendering="crispEdges"/>
<rect x="562" y="313.7" width="3" height="218.7" fill="url(#hm53)" shape-rendering="crispEdges"/>
<rect x="565" y="313.7" width="3" height="218.7" fill="url(#hm54)" shape-rendering="crispEdges"/>
<rect x="568" y="313.7" width="3" height="218.7" fill="url(#hm55)" shape-rendering="crispEdges"/>
<rect x="571" y="313.7" width="3" height="218.7" fill="url(#hm56)" shape-rendering="crispEdges"/>
<rect x="574" y="313.7" width="3" height="218.7" fill="url(#hm57)" shape-rendering="crispEdges"/>
<rect x="577" y="313.7" width="3" height="218.7" fill="url(#hm58)" shape-rendering="crispEdges"/>
<rect x="580" y="313.7" width="3" height="218.7" fill="url(#hm59)" shape-rendering="crispEdges"/>
<rect x="583" y="313.7" width="3" height="218.7" fill="url(#hm60)" shape-rendering="crispEdges"/>
<rect x="586" y="313.7" width="3" height="218.7" fill="url(#hm61)" shape-rendering="crispEdges"/>
<rect x="589" y="313.7" width="3" height="218.7" fill="url(#hm62)" shape-rendering="crispEdges"/>
<rect x="592" y="313.7" width="3" height="218.7" fill="url(#hm63)" shape-rendering="crispEdges"/>
<rect x="595" y="313.7" width="3" height="218.7" fill="url(#hm64)" shape-rendering="crispEdges"/>
<rect x="598" y="313.7" width="3" height="218.7" fill="url(#hm65)" shape-rendering="crispEdges"/>
<rect x="601" y="313.7" width="3" height="218.7" fill="url(#hm66)" shape-rendering="crispEdges"/>
<rect x="604" y="313.7" width="3" height="218.7" fill="url(#hm67)" shape-rendering="crispEdges"/>
<rect x="607" y="313.7" width="3" height="218.7" fill="url(#hm68)" shape-rendering="crispEdges"/>
<rect x="610" y="313.7" width="3" height="218.7" fill="url(#hm69)" shape-rendering="crispEdges"/>
<rect x="613" y="313.7" width="3" height="218.7" fill="url(#hm70)" shape-rendering="crispEdges"/>
<rect x="616" y="313.7" width="3" height="218.7" fill="url(#hm71)" shape-rendering="crispEdges"/>
<rect x="619" y="313.7" width="3" height="218.7" fill="url(#hm72)" shape-rendering="crispEdges"/>
<rect x="622" y="313.7" width="3" height="218.7" fill="url(#hm73)" shape-rendering="crispEdges"/>
<rect x="625" y="313.7" width="3" height="218.7" fill="url(#hm74)" shape-rendering="crispEdges"/>
<rect x="628" y="313.7" width="3" height="218.7" fill="url(#hm75)" shape-rendering="crispEdges"/>
<rect x="631" y="313.7" width="3" height="218.7" fill="url(#hm76)" shape-rendering="crispEdges"/>
<rect x="634" y="313.7" width="3" height="218.7" fill="url(#hm77)" shape-rendering="crispEdges"/>
<rect x="637" y="313.7" width="3" height="218.7" fill="url(#hm78)" shape-rendering="crispEdges"/>
<rect x="640" y="313.7" width="3" height="218.7" fill="url(#hm79)" shape-rendering="crispEdges"/>
</g>
<rect x="402.6" y="299.6" width="237.7" height="8.3" fill="url(#cbd)" stroke="#b0b0b0" stroke-width="0.6" />
<text x="403" y="295.7" font-size="12" text-anchor="start" font-weight="normal" font-style="normal" fill="#141414" >36.2</text>
<text x="640.4" y="295.7" font-size="12" text-anchor="end" font-weight="normal" font-style="normal" fill="#141414" >83.8</text>
<text x="524.3" y="293.6" font-size="15" text-anchor="middle" font-weight="normal" font-style="normal" fill="#141414" >Transmission (%)</text>
<rect x="403" y="313.7" width="237.8" height="218.7" fill="none" stroke="#4e4e4e" stroke-width="1" />
<line x1="442.58" y1="313.7" x2="442.58" y2="316.7" stroke="#333" stroke-width="1" />
<line x1="482.07" y1="313.7" x2="482.07" y2="316.7" stroke="#333" stroke-width="1" />
<line x1="521.55" y1="313.7" x2="521.55" y2="316.7" stroke="#333" stroke-width="1" />
<line x1="561.03" y1="313.7" x2="561.03" y2="316.7" stroke="#333" stroke-width="1" />
<line x1="600.52" y1="313.7" x2="600.52" y2="316.7" stroke="#333" stroke-width="1" />
<line x1="403" y1="477.73" x2="406" y2="477.73" stroke="#333" stroke-width="1.2" />
<line x1="640.8" y1="477.73" x2="637.8" y2="477.73" stroke="#333" stroke-width="1.2" />
<line x1="403" y1="423.05" x2="406" y2="423.05" stroke="#333" stroke-width="1.2" />
<line x1="640.8" y1="423.05" x2="637.8" y2="423.05" stroke="#333" stroke-width="1.2" />
<line x1="403" y1="368.38" x2="406" y2="368.38" stroke="#333" stroke-width="1.2" />
<line x1="640.8" y1="368.38" x2="637.8" y2="368.38" stroke="#333" stroke-width="1.2" />
<circle cx="403.1" cy="532.3" r="3.6" fill="url(#sg22)"/>
<circle cx="429.42" cy="519.1" r="3.6" fill="url(#sg22)"/>
<circle cx="455.74" cy="507.6" r="3.6" fill="url(#sg22)"/>
<circle cx="482.07" cy="495.5" r="3.6" fill="url(#sg22)"/>
<circle cx="508.39" cy="482.5" r="3.6" fill="url(#sg22)"/>
<circle cx="534.71" cy="470.7" r="3.6" fill="url(#sg22)"/>
<circle cx="561.03" cy="459.5" r="3.6" fill="url(#sg22)"/>
<circle cx="587.36" cy="446.5" r="3.6" fill="url(#sg22)"/>
<circle cx="613.68" cy="434.2" r="3.6" fill="url(#sg22)"/>
<circle cx="640" cy="423.1" r="3.6" fill="url(#sg22)"/>
<path d="M403.1,528.12 L407.1,535.08 L399.1,535.08 Z" fill="#f68c50"/>
<path d="M429.42,521.62 L433.42,528.58 L425.42,528.58 Z" fill="#f68c50"/>
<path d="M455.74,514.52 L459.74,521.48 L451.74,521.48 Z" fill="#f68c50"/>
<path d="M482.07,509.52 L486.07,516.48 L478.07,516.48 Z" fill="#f68c50"/>
<path d="M508.39,502.82 L512.39,509.78 L504.39,509.78 Z" fill="#f68c50"/>
<path d="M534.71,495.82 L538.71,502.78 L530.71,502.78 Z" fill="#f68c50"/>
<path d="M561.03,490.72 L565.03,497.68 L557.03,497.68 Z" fill="#f68c50"/>
<path d="M587.36,484.82 L591.36,491.78 L583.36,491.78 Z" fill="#f68c50"/>
<path d="M613.68,478.02 L617.68,484.98 L609.68,484.98 Z" fill="#f68c50"/>
<path d="M640,472.02 L644,478.98 L636,478.98 Z" fill="#f68c50"/>
<rect x="399.8" y="529" width="6.6" height="6.6" fill="#6cc89c" stroke="none" stroke-width="1" />
<rect x="426.12" y="510.7" width="6.6" height="6.6" fill="#6cc89c" stroke="none" stroke-width="1" />
<rect x="452.44" y="493" width="6.6" height="6.6" fill="#6cc89c" stroke="none" stroke-width="1" />
<rect x="478.77" y="474.5" width="6.6" height="6.6" fill="#6cc89c" stroke="none" stroke-width="1" />
<rect x="505.09" y="456.5" width="6.6" height="6.6" fill="#6cc89c" stroke="none" stroke-width="1" />
<rect x="531.41" y="437.7" width="6.6" height="6.6" fill="#6cc89c" stroke="none" stroke-width="1" />
<rect x="557.73" y="419.4" width="6.6" height="6.6" fill="#6cc89c" stroke="none" stroke-width="1" />
<rect x="584.06" y="401.2" width="6.6" height="6.6" fill="#6cc89c" stroke="none" stroke-width="1" />
<rect x="610.38" y="382.9" width="6.6" height="6.6" fill="#6cc89c" stroke="none" stroke-width="1" />
<rect x="636.7" y="364.6" width="6.6" height="6.6" fill="#6cc89c" stroke="none" stroke-width="1" />
<path d="M403.1,528.1 L407.3,532.3 L403.1,536.5 L398.9,532.3 Z" fill="#9dcbea"/>
<path d="M429.42,510.7 L433.62,514.9 L429.42,519.1 L425.22,514.9 Z" fill="#9dcbea"/>
<path d="M455.74,501.1 L459.94,505.3 L455.74,509.5 L451.54,505.3 Z" fill="#9dcbea"/>
<path d="M482.07,492.1 L486.27,496.3 L482.07,500.5 L477.87,496.3 Z" fill="#9dcbea"/>
<path d="M508.39,474.3 L512.59,478.5 L508.39,482.7 L504.19,478.5 Z" fill="#9dcbea"/>
<path d="M534.71,464 L538.91,468.2 L534.71,472.4 L530.51,468.2 Z" fill="#9dcbea"/>
<path d="M561.03,455 L565.23,459.2 L561.03,463.4 L556.83,459.2 Z" fill="#9dcbea"/>
<path d="M587.36,437.2 L591.56,441.4 L587.36,445.6 L583.16,441.4 Z" fill="#9dcbea"/>
<path d="M613.68,426.6 L617.88,430.8 L613.68,435 L609.48,430.8 Z" fill="#9dcbea"/>
<path d="M640,418.9 L644.2,423.1 L640,427.3 L635.8,423.1 Z" fill="#9dcbea"/>
<circle cx="640" cy="423.1" r="4.1" fill="#9dc5e6"/>
<path d="M403.1,527.9 L407.28,530.94 L405.69,535.86 L400.51,535.86 L398.92,530.94 Z" fill="#2b4c80"/>
<path d="M429.42,497 L433.61,500.04 L432.01,504.96 L426.84,504.96 L425.24,500.04 Z" fill="#2b4c80"/>
<path d="M455.74,474.3 L459.93,477.34 L458.33,482.26 L453.16,482.26 L451.56,477.34 Z" fill="#2b4c80"/>
<path d="M482.07,455.4 L486.25,458.44 L484.65,463.36 L479.48,463.36 L477.88,458.44 Z" fill="#2b4c80"/>
<path d="M508.39,423 L512.57,426.04 L510.98,430.96 L505.8,430.96 L504.2,426.04 Z" fill="#2b4c80"/>
<path d="M534.71,400.9 L538.9,403.94 L537.3,408.86 L532.12,408.86 L530.53,403.94 Z" fill="#2b4c80"/>
<path d="M561.03,381.8 L565.22,384.84 L563.62,389.76 L558.45,389.76 L556.85,384.84 Z" fill="#2b4c80"/>
<path d="M587.36,350.8 L591.54,353.84 L589.94,358.76 L584.77,358.76 L583.17,353.84 Z" fill="#2b4c80"/>
<path d="M613.68,327.4 L617.86,330.44 L616.26,335.36 L611.09,335.36 L609.49,330.44 Z" fill="#2b4c80"/>
<path d="M640,309.6 L644.18,312.64 L642.59,317.56 L637.41,317.56 L635.82,312.64 Z" fill="#2b4c80"/>
<circle cx="413.2" cy="323" r="3.6" fill="url(#sg22)"/>
<path d="M413.2,332.62 L417.2,339.58 L409.2,339.58 Z" fill="#f68c50"/>
<rect x="409.9" y="348.1" width="6.6" height="6.6" fill="#6cc89c" stroke="none" stroke-width="1" />
<path d="M413.2,361.1 L417.4,365.3 L413.2,369.5 L409,365.3 Z" fill="#9dcbea"/>
<path d="M413.2,375.5 L417.38,378.54 L415.79,383.46 L410.61,383.46 L409.02,378.54 Z" fill="#2b4c80"/>
<text x="426.6" y="326.9" font-size="11.5" text-anchor="start" font-weight="normal" font-style="normal" fill="#141414" >Linear-LCP</text>
<text x="426.6" y="341.1" font-size="11.5" text-anchor="start" font-weight="normal" font-style="normal" fill="#141414" >SHG-RCP</text>
<text x="426.6" y="355.3" font-size="11.5" text-anchor="start" font-weight="normal" font-style="normal" fill="#141414" >SHG-LCP</text>
<text x="426.6" y="369.1" font-size="11.5" text-anchor="start" font-weight="normal" font-style="normal" fill="#141414" >THG-RCP</text>
<text x="426.6" y="383.7" font-size="11.5" text-anchor="start" font-weight="normal" font-style="normal" fill="#141414" >THG-LCP</text>
<text x="399.4" y="537" font-size="13" text-anchor="end" font-weight="normal" font-style="normal" fill="#141414" >1550</text>
<text x="399.4" y="482.33" font-size="13" text-anchor="end" font-weight="normal" font-style="normal" fill="#141414" >1560</text>
<text x="399.4" y="427.65" font-size="13" text-anchor="end" font-weight="normal" font-style="normal" fill="#141414" >1570</text>
<text x="399.4" y="372.98" font-size="13" text-anchor="end" font-weight="normal" font-style="normal" fill="#141414" >1580</text>
<text x="399.4" y="318.3" font-size="13" text-anchor="end" font-weight="normal" font-style="normal" fill="#141414" >1590</text>
<text x="644.4" y="537" font-size="13" text-anchor="start" font-weight="normal" font-style="normal" fill="#141414" >0</text>
<text x="644.4" y="482.33" font-size="13" text-anchor="start" font-weight="normal" font-style="normal" fill="#141414" >180</text>
<text x="644.4" y="427.65" font-size="13" text-anchor="start" font-weight="normal" font-style="normal" fill="#141414" >360</text>
<text x="644.4" y="372.98" font-size="13" text-anchor="start" font-weight="normal" font-style="normal" fill="#141414" >540</text>
<text x="644.4" y="318.3" font-size="13" text-anchor="start" font-weight="normal" font-style="normal" fill="#141414" >720</text>
<text x="403.1" y="545.4" font-size="13" text-anchor="middle" font-weight="normal" font-style="normal" fill="#141414" >0</text>
<text x="442.58" y="545.4" font-size="13" text-anchor="middle" font-weight="normal" font-style="normal" fill="#141414" >30</text>
<text x="482.07" y="545.4" font-size="13" text-anchor="middle" font-weight="normal" font-style="normal" fill="#141414" >60</text>
<text x="521.55" y="545.4" font-size="13" text-anchor="middle" font-weight="normal" font-style="normal" fill="#141414" >90</text>
<text x="561.03" y="545.4" font-size="13" text-anchor="middle" font-weight="normal" font-style="normal" fill="#141414" >120</text>
<text x="600.52" y="545.4" font-size="13" text-anchor="middle" font-weight="normal" font-style="normal" fill="#141414" >150</text>
<text x="640" y="545.4" font-size="13" text-anchor="middle" font-weight="normal" font-style="normal" fill="#141414" >180</text>
<text x="522.4" y="561.5" font-size="14.5" text-anchor="middle" font-weight="normal" font-style="normal" fill="#141414" >Rotation angle (°)</text>
<text transform="translate(364,423.2) rotate(-90)" x="0" y="0" font-size="14.5" text-anchor="middle" fill="#141414" >Wavelength (nm)</text>
<text transform="translate(682.5,422.6) rotate(-90)" x="0" y="0" font-size="14.5" text-anchor="middle" fill="#141414" >Phase (°)</text>
</g>
</svg>
</body></html>
